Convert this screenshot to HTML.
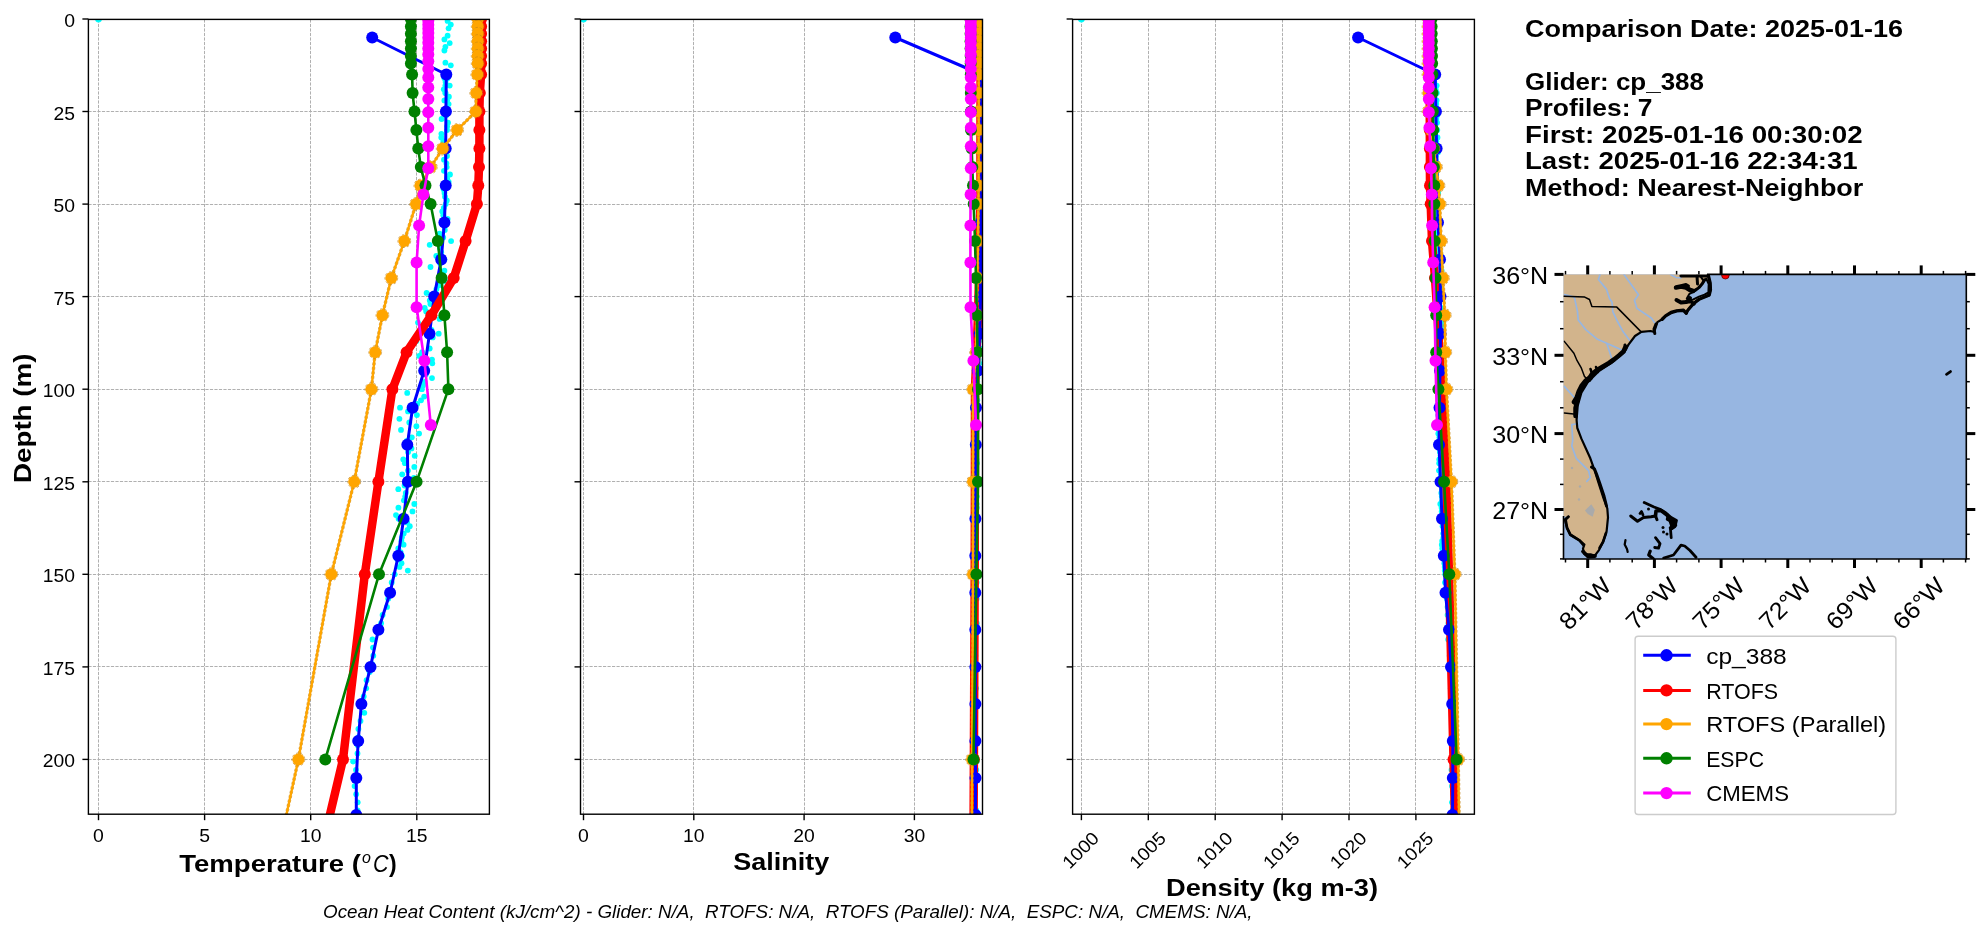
<!DOCTYPE html>
<html><head><meta charset="utf-8"><style>
html,body{margin:0;padding:0;background:#fff;width:1978px;height:934px;overflow:hidden;position:relative}
</style></head><body>
<svg width="1978" height="934" viewBox="0 0 1978 934" style="position:absolute;left:0;top:0;will-change:transform">
<defs>
<clipPath id="c1"><rect x="88.4" y="19.4" width="401.0" height="794.8"/></clipPath>
<clipPath id="c2"><rect x="580.5" y="19.4" width="402.0" height="794.8"/></clipPath>
<clipPath id="c3"><rect x="1072.6" y="19.4" width="401.8" height="794.8"/></clipPath>
<clipPath id="cm"><rect x="1563.5" y="274.4" width="402.8" height="284.6"/></clipPath>
</defs>
<rect width="1978" height="934" fill="#fff"/>
<g stroke="#b0b0b0" stroke-width="1" stroke-dasharray="3.2 1.3" fill="none">
<line x1="98.5" y1="19.4" x2="98.5" y2="814.2"/>
<line x1="204.5" y1="19.4" x2="204.5" y2="814.2"/>
<line x1="310.5" y1="19.4" x2="310.5" y2="814.2"/>
<line x1="416.5" y1="19.4" x2="416.5" y2="814.2"/>
<line x1="88.4" y1="111.5" x2="489.4" y2="111.5"/>
<line x1="88.4" y1="204.5" x2="489.4" y2="204.5"/>
<line x1="88.4" y1="296.5" x2="489.4" y2="296.5"/>
<line x1="88.4" y1="389.5" x2="489.4" y2="389.5"/>
<line x1="88.4" y1="481.5" x2="489.4" y2="481.5"/>
<line x1="88.4" y1="574.5" x2="489.4" y2="574.5"/>
<line x1="88.4" y1="666.5" x2="489.4" y2="666.5"/>
<line x1="88.4" y1="759.5" x2="489.4" y2="759.5"/>
</g>
<g stroke="#b0b0b0" stroke-width="1" stroke-dasharray="3.2 1.3" fill="none">
<line x1="583.5" y1="19.4" x2="583.5" y2="814.2"/>
<line x1="693.5" y1="19.4" x2="693.5" y2="814.2"/>
<line x1="804.5" y1="19.4" x2="804.5" y2="814.2"/>
<line x1="914.5" y1="19.4" x2="914.5" y2="814.2"/>
<line x1="580.5" y1="111.5" x2="982.5" y2="111.5"/>
<line x1="580.5" y1="204.5" x2="982.5" y2="204.5"/>
<line x1="580.5" y1="296.5" x2="982.5" y2="296.5"/>
<line x1="580.5" y1="389.5" x2="982.5" y2="389.5"/>
<line x1="580.5" y1="481.5" x2="982.5" y2="481.5"/>
<line x1="580.5" y1="574.5" x2="982.5" y2="574.5"/>
<line x1="580.5" y1="666.5" x2="982.5" y2="666.5"/>
<line x1="580.5" y1="759.5" x2="982.5" y2="759.5"/>
</g>
<g stroke="#b0b0b0" stroke-width="1" stroke-dasharray="3.2 1.3" fill="none">
<line x1="1081.5" y1="19.4" x2="1081.5" y2="814.2"/>
<line x1="1148.5" y1="19.4" x2="1148.5" y2="814.2"/>
<line x1="1215.5" y1="19.4" x2="1215.5" y2="814.2"/>
<line x1="1282.5" y1="19.4" x2="1282.5" y2="814.2"/>
<line x1="1349.5" y1="19.4" x2="1349.5" y2="814.2"/>
<line x1="1415.5" y1="19.4" x2="1415.5" y2="814.2"/>
<line x1="1072.6" y1="111.5" x2="1474.4" y2="111.5"/>
<line x1="1072.6" y1="204.5" x2="1474.4" y2="204.5"/>
<line x1="1072.6" y1="296.5" x2="1474.4" y2="296.5"/>
<line x1="1072.6" y1="389.5" x2="1474.4" y2="389.5"/>
<line x1="1072.6" y1="481.5" x2="1474.4" y2="481.5"/>
<line x1="1072.6" y1="574.5" x2="1474.4" y2="574.5"/>
<line x1="1072.6" y1="666.5" x2="1474.4" y2="666.5"/>
<line x1="1072.6" y1="759.5" x2="1474.4" y2="759.5"/>
</g>
<g clip-path="url(#c1)">
<circle cx="98.5" cy="19.0" r="3.4" fill="#00ffff"/>
<circle cx="447.6" cy="20.9" r="2.9" fill="#00ffff"/>
<circle cx="450.8" cy="24.6" r="2.9" fill="#00ffff"/>
<circle cx="448.6" cy="28.3" r="2.9" fill="#00ffff"/>
<circle cx="447.6" cy="35.7" r="2.9" fill="#00ffff"/>
<circle cx="444.4" cy="39.4" r="2.9" fill="#00ffff"/>
<circle cx="449.7" cy="43.1" r="2.9" fill="#00ffff"/>
<circle cx="445.4" cy="46.8" r="2.9" fill="#00ffff"/>
<circle cx="444.4" cy="50.5" r="2.9" fill="#00ffff"/>
<circle cx="445.4" cy="62.7" r="2.9" fill="#00ffff"/>
<circle cx="450.8" cy="65.3" r="2.9" fill="#00ffff"/>
<circle cx="444.4" cy="78.2" r="2.9" fill="#00ffff"/>
<circle cx="449.7" cy="85.6" r="2.9" fill="#00ffff"/>
<circle cx="445.4" cy="93.0" r="2.9" fill="#00ffff"/>
<circle cx="444.4" cy="100.4" r="2.9" fill="#00ffff"/>
<circle cx="445.6" cy="74.5" r="2.9" fill="#00ffff"/>
<circle cx="447.6" cy="78.2" r="2.9" fill="#00ffff"/>
<circle cx="445.6" cy="81.9" r="2.9" fill="#00ffff"/>
<circle cx="445.4" cy="85.6" r="2.9" fill="#00ffff"/>
<circle cx="443.8" cy="89.3" r="2.9" fill="#00ffff"/>
<circle cx="445.5" cy="93.0" r="2.9" fill="#00ffff"/>
<circle cx="448.9" cy="96.7" r="2.9" fill="#00ffff"/>
<circle cx="447.1" cy="100.4" r="2.9" fill="#00ffff"/>
<circle cx="448.6" cy="104.1" r="2.9" fill="#00ffff"/>
<circle cx="446.5" cy="107.8" r="2.9" fill="#00ffff"/>
<circle cx="446.9" cy="111.5" r="2.9" fill="#00ffff"/>
<circle cx="446.3" cy="115.3" r="2.9" fill="#00ffff"/>
<circle cx="441.6" cy="119.0" r="2.9" fill="#00ffff"/>
<circle cx="448.0" cy="122.7" r="2.9" fill="#00ffff"/>
<circle cx="447.1" cy="126.4" r="2.9" fill="#00ffff"/>
<circle cx="447.0" cy="130.1" r="2.9" fill="#00ffff"/>
<circle cx="441.4" cy="133.8" r="2.9" fill="#00ffff"/>
<circle cx="441.3" cy="137.5" r="2.9" fill="#00ffff"/>
<circle cx="443.4" cy="141.2" r="2.9" fill="#00ffff"/>
<circle cx="444.5" cy="144.9" r="2.9" fill="#00ffff"/>
<circle cx="446.4" cy="148.6" r="2.9" fill="#00ffff"/>
<circle cx="445.5" cy="152.3" r="2.9" fill="#00ffff"/>
<circle cx="447.0" cy="156.0" r="2.9" fill="#00ffff"/>
<circle cx="444.0" cy="159.7" r="2.9" fill="#00ffff"/>
<circle cx="446.4" cy="163.4" r="2.9" fill="#00ffff"/>
<circle cx="446.7" cy="167.1" r="2.9" fill="#00ffff"/>
<circle cx="444.0" cy="170.8" r="2.9" fill="#00ffff"/>
<circle cx="450.0" cy="174.5" r="2.9" fill="#00ffff"/>
<circle cx="447.1" cy="178.2" r="2.9" fill="#00ffff"/>
<circle cx="448.7" cy="181.9" r="2.9" fill="#00ffff"/>
<circle cx="444.1" cy="185.6" r="2.9" fill="#00ffff"/>
<circle cx="443.6" cy="189.3" r="2.9" fill="#00ffff"/>
<circle cx="444.5" cy="193.0" r="2.9" fill="#00ffff"/>
<circle cx="445.0" cy="196.7" r="2.9" fill="#00ffff"/>
<circle cx="446.8" cy="200.4" r="2.9" fill="#00ffff"/>
<circle cx="445.7" cy="204.1" r="2.9" fill="#00ffff"/>
<circle cx="443.8" cy="207.8" r="2.9" fill="#00ffff"/>
<circle cx="442.3" cy="211.5" r="2.9" fill="#00ffff"/>
<circle cx="443.3" cy="215.2" r="2.9" fill="#00ffff"/>
<circle cx="447.6" cy="218.9" r="2.9" fill="#00ffff"/>
<circle cx="442.3" cy="222.6" r="2.9" fill="#00ffff"/>
<circle cx="444.7" cy="226.3" r="2.9" fill="#00ffff"/>
<circle cx="444.8" cy="230.0" r="2.9" fill="#00ffff"/>
<circle cx="439.6" cy="233.7" r="2.9" fill="#00ffff"/>
<circle cx="443.2" cy="237.4" r="2.9" fill="#00ffff"/>
<circle cx="451.1" cy="241.1" r="2.9" fill="#00ffff"/>
<circle cx="429.7" cy="244.8" r="2.9" fill="#00ffff"/>
<circle cx="440.1" cy="248.5" r="2.9" fill="#00ffff"/>
<circle cx="441.2" cy="252.2" r="2.9" fill="#00ffff"/>
<circle cx="436.3" cy="255.9" r="2.9" fill="#00ffff"/>
<circle cx="444.4" cy="259.6" r="2.9" fill="#00ffff"/>
<circle cx="440.1" cy="263.3" r="2.9" fill="#00ffff"/>
<circle cx="430.5" cy="267.0" r="2.9" fill="#00ffff"/>
<circle cx="444.4" cy="270.7" r="2.9" fill="#00ffff"/>
<circle cx="442.7" cy="274.4" r="2.9" fill="#00ffff"/>
<circle cx="443.7" cy="278.1" r="2.9" fill="#00ffff"/>
<circle cx="446.2" cy="281.8" r="2.9" fill="#00ffff"/>
<circle cx="438.6" cy="285.5" r="2.9" fill="#00ffff"/>
<circle cx="436.4" cy="289.2" r="2.9" fill="#00ffff"/>
<circle cx="426.6" cy="292.9" r="2.9" fill="#00ffff"/>
<circle cx="438.1" cy="296.6" r="2.9" fill="#00ffff"/>
<circle cx="429.8" cy="300.4" r="2.9" fill="#00ffff"/>
<circle cx="430.4" cy="304.1" r="2.9" fill="#00ffff"/>
<circle cx="424.7" cy="307.8" r="2.9" fill="#00ffff"/>
<circle cx="426.2" cy="311.5" r="2.9" fill="#00ffff"/>
<circle cx="428.5" cy="315.2" r="2.9" fill="#00ffff"/>
<circle cx="439.6" cy="318.9" r="2.9" fill="#00ffff"/>
<circle cx="418.0" cy="322.6" r="2.9" fill="#00ffff"/>
<circle cx="421.2" cy="326.3" r="2.9" fill="#00ffff"/>
<circle cx="431.5" cy="330.0" r="2.9" fill="#00ffff"/>
<circle cx="438.7" cy="333.7" r="2.9" fill="#00ffff"/>
<circle cx="432.7" cy="337.4" r="2.9" fill="#00ffff"/>
<circle cx="416.4" cy="341.1" r="2.9" fill="#00ffff"/>
<circle cx="411.9" cy="344.8" r="2.9" fill="#00ffff"/>
<circle cx="429.7" cy="348.5" r="2.9" fill="#00ffff"/>
<circle cx="422.2" cy="352.2" r="2.9" fill="#00ffff"/>
<circle cx="419.2" cy="355.9" r="2.9" fill="#00ffff"/>
<circle cx="432.0" cy="359.6" r="2.9" fill="#00ffff"/>
<circle cx="432.3" cy="363.3" r="2.9" fill="#00ffff"/>
<circle cx="425.8" cy="367.0" r="2.9" fill="#00ffff"/>
<circle cx="425.8" cy="370.7" r="2.9" fill="#00ffff"/>
<circle cx="425.8" cy="374.4" r="2.9" fill="#00ffff"/>
<circle cx="432.0" cy="378.1" r="2.9" fill="#00ffff"/>
<circle cx="424.7" cy="381.8" r="2.9" fill="#00ffff"/>
<circle cx="422.9" cy="385.5" r="2.9" fill="#00ffff"/>
<circle cx="421.9" cy="389.2" r="2.9" fill="#00ffff"/>
<circle cx="407.2" cy="392.9" r="2.9" fill="#00ffff"/>
<circle cx="424.2" cy="396.6" r="2.9" fill="#00ffff"/>
<circle cx="421.0" cy="400.3" r="2.9" fill="#00ffff"/>
<circle cx="417.1" cy="404.0" r="2.9" fill="#00ffff"/>
<circle cx="400.0" cy="407.7" r="2.9" fill="#00ffff"/>
<circle cx="408.0" cy="411.4" r="2.9" fill="#00ffff"/>
<circle cx="416.9" cy="415.1" r="2.9" fill="#00ffff"/>
<circle cx="399.4" cy="418.8" r="2.9" fill="#00ffff"/>
<circle cx="409.3" cy="422.5" r="2.9" fill="#00ffff"/>
<circle cx="416.4" cy="426.2" r="2.9" fill="#00ffff"/>
<circle cx="401.0" cy="429.9" r="2.9" fill="#00ffff"/>
<circle cx="419.1" cy="433.6" r="2.9" fill="#00ffff"/>
<circle cx="411.8" cy="437.3" r="2.9" fill="#00ffff"/>
<circle cx="406.8" cy="441.0" r="2.9" fill="#00ffff"/>
<circle cx="409.3" cy="444.7" r="2.9" fill="#00ffff"/>
<circle cx="411.5" cy="448.4" r="2.9" fill="#00ffff"/>
<circle cx="408.1" cy="452.1" r="2.9" fill="#00ffff"/>
<circle cx="414.7" cy="455.8" r="2.9" fill="#00ffff"/>
<circle cx="403.3" cy="459.5" r="2.9" fill="#00ffff"/>
<circle cx="404.9" cy="463.2" r="2.9" fill="#00ffff"/>
<circle cx="414.3" cy="466.9" r="2.9" fill="#00ffff"/>
<circle cx="407.9" cy="470.6" r="2.9" fill="#00ffff"/>
<circle cx="402.2" cy="474.3" r="2.9" fill="#00ffff"/>
<circle cx="413.8" cy="478.0" r="2.9" fill="#00ffff"/>
<circle cx="417.2" cy="481.8" r="2.9" fill="#00ffff"/>
<circle cx="404.6" cy="485.5" r="2.9" fill="#00ffff"/>
<circle cx="398.3" cy="489.2" r="2.9" fill="#00ffff"/>
<circle cx="405.8" cy="492.9" r="2.9" fill="#00ffff"/>
<circle cx="405.2" cy="496.6" r="2.9" fill="#00ffff"/>
<circle cx="403.9" cy="500.3" r="2.9" fill="#00ffff"/>
<circle cx="414.3" cy="504.0" r="2.9" fill="#00ffff"/>
<circle cx="398.4" cy="507.7" r="2.9" fill="#00ffff"/>
<circle cx="412.5" cy="511.4" r="2.9" fill="#00ffff"/>
<circle cx="396.0" cy="515.1" r="2.9" fill="#00ffff"/>
<circle cx="398.6" cy="518.8" r="2.9" fill="#00ffff"/>
<circle cx="407.1" cy="522.5" r="2.9" fill="#00ffff"/>
<circle cx="409.8" cy="526.2" r="2.9" fill="#00ffff"/>
<circle cx="407.5" cy="529.9" r="2.9" fill="#00ffff"/>
<circle cx="403.7" cy="533.6" r="2.9" fill="#00ffff"/>
<circle cx="401.9" cy="537.3" r="2.9" fill="#00ffff"/>
<circle cx="401.4" cy="541.0" r="2.9" fill="#00ffff"/>
<circle cx="403.6" cy="544.7" r="2.9" fill="#00ffff"/>
<circle cx="398.3" cy="548.4" r="2.9" fill="#00ffff"/>
<circle cx="400.6" cy="552.1" r="2.9" fill="#00ffff"/>
<circle cx="402.0" cy="555.8" r="2.9" fill="#00ffff"/>
<circle cx="397.5" cy="559.5" r="2.9" fill="#00ffff"/>
<circle cx="401.5" cy="563.2" r="2.9" fill="#00ffff"/>
<circle cx="399.5" cy="566.9" r="2.9" fill="#00ffff"/>
<circle cx="407.8" cy="570.6" r="2.9" fill="#00ffff"/>
<circle cx="394.7" cy="574.3" r="2.9" fill="#00ffff"/>
<circle cx="391.7" cy="582.4" r="2.9" fill="#00ffff"/>
<circle cx="390.0" cy="590.6" r="2.9" fill="#00ffff"/>
<circle cx="388.2" cy="598.7" r="2.9" fill="#00ffff"/>
<circle cx="387.0" cy="606.9" r="2.9" fill="#00ffff"/>
<circle cx="382.6" cy="615.0" r="2.9" fill="#00ffff"/>
<circle cx="381.1" cy="623.2" r="2.9" fill="#00ffff"/>
<circle cx="380.8" cy="631.3" r="2.9" fill="#00ffff"/>
<circle cx="372.5" cy="639.5" r="2.9" fill="#00ffff"/>
<circle cx="373.0" cy="647.6" r="2.9" fill="#00ffff"/>
<circle cx="373.3" cy="655.7" r="2.9" fill="#00ffff"/>
<circle cx="371.8" cy="663.9" r="2.9" fill="#00ffff"/>
<circle cx="369.6" cy="672.0" r="2.9" fill="#00ffff"/>
<circle cx="366.6" cy="680.2" r="2.9" fill="#00ffff"/>
<circle cx="366.2" cy="688.3" r="2.9" fill="#00ffff"/>
<circle cx="363.7" cy="696.5" r="2.9" fill="#00ffff"/>
<circle cx="360.6" cy="704.6" r="2.9" fill="#00ffff"/>
<circle cx="364.3" cy="712.8" r="2.9" fill="#00ffff"/>
<circle cx="360.5" cy="720.9" r="2.9" fill="#00ffff"/>
<circle cx="358.4" cy="729.0" r="2.9" fill="#00ffff"/>
<circle cx="358.4" cy="737.2" r="2.9" fill="#00ffff"/>
<circle cx="357.7" cy="745.3" r="2.9" fill="#00ffff"/>
<circle cx="357.5" cy="753.5" r="2.9" fill="#00ffff"/>
<circle cx="353.1" cy="761.6" r="2.9" fill="#00ffff"/>
<circle cx="356.0" cy="769.8" r="2.9" fill="#00ffff"/>
<circle cx="357.8" cy="777.9" r="2.9" fill="#00ffff"/>
<circle cx="354.6" cy="786.1" r="2.9" fill="#00ffff"/>
<circle cx="356.2" cy="794.2" r="2.9" fill="#00ffff"/>
<circle cx="357.7" cy="802.3" r="2.9" fill="#00ffff"/>
<circle cx="357.6" cy="810.5" r="2.9" fill="#00ffff"/>
<circle cx="358.5" cy="818.6" r="2.9" fill="#00ffff"/>
<path d="M372.2 37.5 L446.3 74.5 L445.9 111.5 L445.7 148.6 L445.7 185.6 L444.4 222.6 L441.2 259.6 L434.2 296.6 L429.5 333.7 L424.2 370.7 L412.6 407.7 L407.3 444.7 L407.9 481.8 L403.6 518.8 L398.3 555.8 L390.1 592.8 L378.4 629.8 L370.5 666.9 L361.4 703.9 L358.2 740.9 L356.3 777.9 L356.3 814.9" fill="none" stroke="#0000ff" stroke-width="3" stroke-linejoin="round"/>
<circle cx="372.2" cy="37.5" r="6.0" fill="#0000ff"/>
<circle cx="446.3" cy="74.5" r="6.0" fill="#0000ff"/>
<circle cx="445.9" cy="111.5" r="6.0" fill="#0000ff"/>
<circle cx="445.7" cy="148.6" r="6.0" fill="#0000ff"/>
<circle cx="445.7" cy="185.6" r="6.0" fill="#0000ff"/>
<circle cx="444.4" cy="222.6" r="6.0" fill="#0000ff"/>
<circle cx="441.2" cy="259.6" r="6.0" fill="#0000ff"/>
<circle cx="434.2" cy="296.6" r="6.0" fill="#0000ff"/>
<circle cx="429.5" cy="333.7" r="6.0" fill="#0000ff"/>
<circle cx="424.2" cy="370.7" r="6.0" fill="#0000ff"/>
<circle cx="412.6" cy="407.7" r="6.0" fill="#0000ff"/>
<circle cx="407.3" cy="444.7" r="6.0" fill="#0000ff"/>
<circle cx="407.9" cy="481.8" r="6.0" fill="#0000ff"/>
<circle cx="403.6" cy="518.8" r="6.0" fill="#0000ff"/>
<circle cx="398.3" cy="555.8" r="6.0" fill="#0000ff"/>
<circle cx="390.1" cy="592.8" r="6.0" fill="#0000ff"/>
<circle cx="378.4" cy="629.8" r="6.0" fill="#0000ff"/>
<circle cx="370.5" cy="666.9" r="6.0" fill="#0000ff"/>
<circle cx="361.4" cy="703.9" r="6.0" fill="#0000ff"/>
<circle cx="358.2" cy="740.9" r="6.0" fill="#0000ff"/>
<circle cx="356.3" cy="777.9" r="6.0" fill="#0000ff"/>
<circle cx="356.3" cy="814.9" r="6.0" fill="#0000ff"/>
<path d="M481.1 19.0 L481.1 26.4 L481.1 33.8 L481.1 41.2 L481.1 48.6 L481.1 56.0 L481.1 63.4 L481.1 74.5 L479.8 93.0 L479.4 111.5 L479.4 130.1 L479.4 148.6 L479.0 167.1 L478.3 185.6 L476.9 204.1 L465.6 241.1 L453.7 278.1 L431.4 315.2 L406.6 352.2 L392.4 389.2 L378.4 481.8 L364.8 574.3 L343.0 759.4 L299.2 944.5" fill="none" stroke="#ff0000" stroke-width="8.5" stroke-linejoin="round"/>
<circle cx="481.1" cy="19.0" r="6.0" fill="#ff0000"/>
<circle cx="481.1" cy="26.4" r="6.0" fill="#ff0000"/>
<circle cx="481.1" cy="33.8" r="6.0" fill="#ff0000"/>
<circle cx="481.1" cy="41.2" r="6.0" fill="#ff0000"/>
<circle cx="481.1" cy="48.6" r="6.0" fill="#ff0000"/>
<circle cx="481.1" cy="56.0" r="6.0" fill="#ff0000"/>
<circle cx="481.1" cy="63.4" r="6.0" fill="#ff0000"/>
<circle cx="481.1" cy="74.5" r="6.0" fill="#ff0000"/>
<circle cx="479.8" cy="93.0" r="6.0" fill="#ff0000"/>
<circle cx="479.4" cy="111.5" r="6.0" fill="#ff0000"/>
<circle cx="479.4" cy="130.1" r="6.0" fill="#ff0000"/>
<circle cx="479.4" cy="148.6" r="6.0" fill="#ff0000"/>
<circle cx="479.0" cy="167.1" r="6.0" fill="#ff0000"/>
<circle cx="478.3" cy="185.6" r="6.0" fill="#ff0000"/>
<circle cx="476.9" cy="204.1" r="6.0" fill="#ff0000"/>
<circle cx="465.6" cy="241.1" r="6.0" fill="#ff0000"/>
<circle cx="453.7" cy="278.1" r="6.0" fill="#ff0000"/>
<circle cx="431.4" cy="315.2" r="6.0" fill="#ff0000"/>
<circle cx="406.6" cy="352.2" r="6.0" fill="#ff0000"/>
<circle cx="392.4" cy="389.2" r="6.0" fill="#ff0000"/>
<circle cx="378.4" cy="481.8" r="6.0" fill="#ff0000"/>
<circle cx="364.8" cy="574.3" r="6.0" fill="#ff0000"/>
<circle cx="343.0" cy="759.4" r="6.0" fill="#ff0000"/>
<circle cx="299.2" cy="944.5" r="6.0" fill="#ff0000"/>
<path d="M477.7 19.0 L477.7 26.4 L477.7 33.8 L477.7 41.2 L477.7 48.6 L477.7 56.0 L477.7 63.4 L477.3 74.5 L476.2 93.0 L475.8 111.5 L457.1 130.1 L442.7 148.6 L430.8 167.1 L420.4 185.6 L416.0 204.1 L404.3 241.1 L391.3 278.1 L382.4 315.2 L375.2 352.2 L371.4 389.2 L354.2 481.8 L331.3 574.3 L298.4 759.4 L258.3 944.5" fill="none" stroke="#c0841a" stroke-opacity="0.7" stroke-width="3.4" stroke-linejoin="round" stroke-dasharray="2.5 2"/>
<path d="M477.7 19.0 L477.7 26.4 L477.7 33.8 L477.7 41.2 L477.7 48.6 L477.7 56.0 L477.7 63.4 L477.3 74.5 L476.2 93.0 L475.8 111.5 L457.1 130.1 L442.7 148.6 L430.8 167.1 L420.4 185.6 L416.0 204.1 L404.3 241.1 L391.3 278.1 L382.4 315.2 L375.2 352.2 L371.4 389.2 L354.2 481.8 L331.3 574.3 L298.4 759.4 L258.3 944.5" fill="none" stroke="#ffa500" stroke-width="2.4" stroke-linejoin="round"/>
<circle cx="477.7" cy="19.0" r="6.4" fill="none" stroke="#c0841a" stroke-opacity="0.7" stroke-width="1.0" stroke-dasharray="2.5 2"/>
<circle cx="477.7" cy="19.0" r="6.0" fill="#ffa500"/>
<circle cx="477.7" cy="26.4" r="6.4" fill="none" stroke="#c0841a" stroke-opacity="0.7" stroke-width="1.0" stroke-dasharray="2.5 2"/>
<circle cx="477.7" cy="26.4" r="6.0" fill="#ffa500"/>
<circle cx="477.7" cy="33.8" r="6.4" fill="none" stroke="#c0841a" stroke-opacity="0.7" stroke-width="1.0" stroke-dasharray="2.5 2"/>
<circle cx="477.7" cy="33.8" r="6.0" fill="#ffa500"/>
<circle cx="477.7" cy="41.2" r="6.4" fill="none" stroke="#c0841a" stroke-opacity="0.7" stroke-width="1.0" stroke-dasharray="2.5 2"/>
<circle cx="477.7" cy="41.2" r="6.0" fill="#ffa500"/>
<circle cx="477.7" cy="48.6" r="6.4" fill="none" stroke="#c0841a" stroke-opacity="0.7" stroke-width="1.0" stroke-dasharray="2.5 2"/>
<circle cx="477.7" cy="48.6" r="6.0" fill="#ffa500"/>
<circle cx="477.7" cy="56.0" r="6.4" fill="none" stroke="#c0841a" stroke-opacity="0.7" stroke-width="1.0" stroke-dasharray="2.5 2"/>
<circle cx="477.7" cy="56.0" r="6.0" fill="#ffa500"/>
<circle cx="477.7" cy="63.4" r="6.4" fill="none" stroke="#c0841a" stroke-opacity="0.7" stroke-width="1.0" stroke-dasharray="2.5 2"/>
<circle cx="477.7" cy="63.4" r="6.0" fill="#ffa500"/>
<circle cx="477.3" cy="74.5" r="6.4" fill="none" stroke="#c0841a" stroke-opacity="0.7" stroke-width="1.0" stroke-dasharray="2.5 2"/>
<circle cx="477.3" cy="74.5" r="6.0" fill="#ffa500"/>
<circle cx="476.2" cy="93.0" r="6.4" fill="none" stroke="#c0841a" stroke-opacity="0.7" stroke-width="1.0" stroke-dasharray="2.5 2"/>
<circle cx="476.2" cy="93.0" r="6.0" fill="#ffa500"/>
<circle cx="475.8" cy="111.5" r="6.4" fill="none" stroke="#c0841a" stroke-opacity="0.7" stroke-width="1.0" stroke-dasharray="2.5 2"/>
<circle cx="475.8" cy="111.5" r="6.0" fill="#ffa500"/>
<circle cx="457.1" cy="130.1" r="6.4" fill="none" stroke="#c0841a" stroke-opacity="0.7" stroke-width="1.0" stroke-dasharray="2.5 2"/>
<circle cx="457.1" cy="130.1" r="6.0" fill="#ffa500"/>
<circle cx="442.7" cy="148.6" r="6.4" fill="none" stroke="#c0841a" stroke-opacity="0.7" stroke-width="1.0" stroke-dasharray="2.5 2"/>
<circle cx="442.7" cy="148.6" r="6.0" fill="#ffa500"/>
<circle cx="430.8" cy="167.1" r="6.4" fill="none" stroke="#c0841a" stroke-opacity="0.7" stroke-width="1.0" stroke-dasharray="2.5 2"/>
<circle cx="430.8" cy="167.1" r="6.0" fill="#ffa500"/>
<circle cx="420.4" cy="185.6" r="6.4" fill="none" stroke="#c0841a" stroke-opacity="0.7" stroke-width="1.0" stroke-dasharray="2.5 2"/>
<circle cx="420.4" cy="185.6" r="6.0" fill="#ffa500"/>
<circle cx="416.0" cy="204.1" r="6.4" fill="none" stroke="#c0841a" stroke-opacity="0.7" stroke-width="1.0" stroke-dasharray="2.5 2"/>
<circle cx="416.0" cy="204.1" r="6.0" fill="#ffa500"/>
<circle cx="404.3" cy="241.1" r="6.4" fill="none" stroke="#c0841a" stroke-opacity="0.7" stroke-width="1.0" stroke-dasharray="2.5 2"/>
<circle cx="404.3" cy="241.1" r="6.0" fill="#ffa500"/>
<circle cx="391.3" cy="278.1" r="6.4" fill="none" stroke="#c0841a" stroke-opacity="0.7" stroke-width="1.0" stroke-dasharray="2.5 2"/>
<circle cx="391.3" cy="278.1" r="6.0" fill="#ffa500"/>
<circle cx="382.4" cy="315.2" r="6.4" fill="none" stroke="#c0841a" stroke-opacity="0.7" stroke-width="1.0" stroke-dasharray="2.5 2"/>
<circle cx="382.4" cy="315.2" r="6.0" fill="#ffa500"/>
<circle cx="375.2" cy="352.2" r="6.4" fill="none" stroke="#c0841a" stroke-opacity="0.7" stroke-width="1.0" stroke-dasharray="2.5 2"/>
<circle cx="375.2" cy="352.2" r="6.0" fill="#ffa500"/>
<circle cx="371.4" cy="389.2" r="6.4" fill="none" stroke="#c0841a" stroke-opacity="0.7" stroke-width="1.0" stroke-dasharray="2.5 2"/>
<circle cx="371.4" cy="389.2" r="6.0" fill="#ffa500"/>
<circle cx="354.2" cy="481.8" r="6.4" fill="none" stroke="#c0841a" stroke-opacity="0.7" stroke-width="1.0" stroke-dasharray="2.5 2"/>
<circle cx="354.2" cy="481.8" r="6.0" fill="#ffa500"/>
<circle cx="331.3" cy="574.3" r="6.4" fill="none" stroke="#c0841a" stroke-opacity="0.7" stroke-width="1.0" stroke-dasharray="2.5 2"/>
<circle cx="331.3" cy="574.3" r="6.0" fill="#ffa500"/>
<circle cx="298.4" cy="759.4" r="6.4" fill="none" stroke="#c0841a" stroke-opacity="0.7" stroke-width="1.0" stroke-dasharray="2.5 2"/>
<circle cx="298.4" cy="759.4" r="6.0" fill="#ffa500"/>
<circle cx="258.3" cy="944.5" r="6.4" fill="none" stroke="#c0841a" stroke-opacity="0.7" stroke-width="1.0" stroke-dasharray="2.5 2"/>
<circle cx="258.3" cy="944.5" r="6.0" fill="#ffa500"/>
<path d="M410.9 19.0 L410.9 26.4 L410.9 33.8 L410.9 41.2 L410.9 48.6 L410.9 56.0 L410.9 63.4 L412.1 74.5 L412.6 93.0 L414.5 111.5 L416.4 130.1 L418.3 148.6 L420.8 167.1 L425.5 185.6 L430.6 204.1 L437.8 241.1 L441.6 278.1 L444.4 315.2 L447.1 352.2 L448.4 389.2 L416.6 481.8 L379.0 574.3 L325.3 759.4" fill="none" stroke="#008000" stroke-width="2.6" stroke-linejoin="round"/>
<circle cx="410.9" cy="19.0" r="6.0" fill="#008000"/>
<circle cx="410.9" cy="26.4" r="6.0" fill="#008000"/>
<circle cx="410.9" cy="33.8" r="6.0" fill="#008000"/>
<circle cx="410.9" cy="41.2" r="6.0" fill="#008000"/>
<circle cx="410.9" cy="48.6" r="6.0" fill="#008000"/>
<circle cx="410.9" cy="56.0" r="6.0" fill="#008000"/>
<circle cx="410.9" cy="63.4" r="6.0" fill="#008000"/>
<circle cx="412.1" cy="74.5" r="6.0" fill="#008000"/>
<circle cx="412.6" cy="93.0" r="6.0" fill="#008000"/>
<circle cx="414.5" cy="111.5" r="6.0" fill="#008000"/>
<circle cx="416.4" cy="130.1" r="6.0" fill="#008000"/>
<circle cx="418.3" cy="148.6" r="6.0" fill="#008000"/>
<circle cx="420.8" cy="167.1" r="6.0" fill="#008000"/>
<circle cx="425.5" cy="185.6" r="6.0" fill="#008000"/>
<circle cx="430.6" cy="204.1" r="6.0" fill="#008000"/>
<circle cx="437.8" cy="241.1" r="6.0" fill="#008000"/>
<circle cx="441.6" cy="278.1" r="6.0" fill="#008000"/>
<circle cx="444.4" cy="315.2" r="6.0" fill="#008000"/>
<circle cx="447.1" cy="352.2" r="6.0" fill="#008000"/>
<circle cx="448.4" cy="389.2" r="6.0" fill="#008000"/>
<circle cx="416.6" cy="481.8" r="6.0" fill="#008000"/>
<circle cx="379.0" cy="574.3" r="6.0" fill="#008000"/>
<circle cx="325.3" cy="759.4" r="6.0" fill="#008000"/>
<path d="M428.3 20.8 L428.3 24.7 L428.3 28.8 L428.3 33.1 L428.3 37.8 L428.3 42.8 L428.3 48.4 L428.3 54.4 L428.3 61.2 L428.3 68.9 L428.3 77.5 L428.3 87.5 L428.3 99.0 L428.3 112.3 L428.3 127.8 L428.3 146.3 L428.3 168.2 L423.4 194.5 L419.1 225.6 L416.6 262.6 L416.6 307.2 L424.4 360.7 L430.8 425.1" fill="none" stroke="#ff00ff" stroke-width="2.6" stroke-linejoin="round"/>
<circle cx="428.3" cy="20.8" r="6.0" fill="#ff00ff"/>
<circle cx="428.3" cy="24.7" r="6.0" fill="#ff00ff"/>
<circle cx="428.3" cy="28.8" r="6.0" fill="#ff00ff"/>
<circle cx="428.3" cy="33.1" r="6.0" fill="#ff00ff"/>
<circle cx="428.3" cy="37.8" r="6.0" fill="#ff00ff"/>
<circle cx="428.3" cy="42.8" r="6.0" fill="#ff00ff"/>
<circle cx="428.3" cy="48.4" r="6.0" fill="#ff00ff"/>
<circle cx="428.3" cy="54.4" r="6.0" fill="#ff00ff"/>
<circle cx="428.3" cy="61.2" r="6.0" fill="#ff00ff"/>
<circle cx="428.3" cy="68.9" r="6.0" fill="#ff00ff"/>
<circle cx="428.3" cy="77.5" r="6.0" fill="#ff00ff"/>
<circle cx="428.3" cy="87.5" r="6.0" fill="#ff00ff"/>
<circle cx="428.3" cy="99.0" r="6.0" fill="#ff00ff"/>
<circle cx="428.3" cy="112.3" r="6.0" fill="#ff00ff"/>
<circle cx="428.3" cy="127.8" r="6.0" fill="#ff00ff"/>
<circle cx="428.3" cy="146.3" r="6.0" fill="#ff00ff"/>
<circle cx="428.3" cy="168.2" r="6.0" fill="#ff00ff"/>
<circle cx="423.4" cy="194.5" r="6.0" fill="#ff00ff"/>
<circle cx="419.1" cy="225.6" r="6.0" fill="#ff00ff"/>
<circle cx="416.6" cy="262.6" r="6.0" fill="#ff00ff"/>
<circle cx="416.6" cy="307.2" r="6.0" fill="#ff00ff"/>
<circle cx="424.4" cy="360.7" r="6.0" fill="#ff00ff"/>
<circle cx="430.8" cy="425.1" r="6.0" fill="#ff00ff"/>
</g>
<g clip-path="url(#c2)">
<circle cx="583.5" cy="19.0" r="3.4" fill="#00ffff"/>
<circle cx="981.0" cy="20.9" r="2.9" fill="#00ffff"/>
<circle cx="981.0" cy="24.6" r="2.9" fill="#00ffff"/>
<circle cx="981.0" cy="28.3" r="2.9" fill="#00ffff"/>
<circle cx="981.0" cy="35.7" r="2.9" fill="#00ffff"/>
<circle cx="981.0" cy="39.4" r="2.9" fill="#00ffff"/>
<circle cx="981.0" cy="43.1" r="2.9" fill="#00ffff"/>
<circle cx="981.0" cy="46.8" r="2.9" fill="#00ffff"/>
<circle cx="981.0" cy="50.5" r="2.9" fill="#00ffff"/>
<circle cx="981.0" cy="62.7" r="2.9" fill="#00ffff"/>
<circle cx="981.0" cy="65.3" r="2.9" fill="#00ffff"/>
<circle cx="981.6" cy="78.2" r="2.9" fill="#00ffff"/>
<circle cx="982.3" cy="85.6" r="2.9" fill="#00ffff"/>
<circle cx="980.9" cy="93.0" r="2.9" fill="#00ffff"/>
<circle cx="980.6" cy="100.4" r="2.9" fill="#00ffff"/>
<circle cx="981.0" cy="74.5" r="2.9" fill="#00ffff"/>
<circle cx="982.4" cy="78.2" r="2.9" fill="#00ffff"/>
<circle cx="982.9" cy="81.9" r="2.9" fill="#00ffff"/>
<circle cx="982.5" cy="85.6" r="2.9" fill="#00ffff"/>
<circle cx="982.4" cy="89.3" r="2.9" fill="#00ffff"/>
<circle cx="982.4" cy="93.0" r="2.9" fill="#00ffff"/>
<circle cx="982.1" cy="96.7" r="2.9" fill="#00ffff"/>
<circle cx="980.6" cy="100.4" r="2.9" fill="#00ffff"/>
<circle cx="981.4" cy="104.1" r="2.9" fill="#00ffff"/>
<circle cx="980.9" cy="107.8" r="2.9" fill="#00ffff"/>
<circle cx="979.9" cy="111.5" r="2.9" fill="#00ffff"/>
<circle cx="979.9" cy="115.3" r="2.9" fill="#00ffff"/>
<circle cx="980.7" cy="119.0" r="2.9" fill="#00ffff"/>
<circle cx="980.6" cy="122.7" r="2.9" fill="#00ffff"/>
<circle cx="981.9" cy="126.4" r="2.9" fill="#00ffff"/>
<circle cx="982.6" cy="130.1" r="2.9" fill="#00ffff"/>
<circle cx="981.1" cy="133.8" r="2.9" fill="#00ffff"/>
<circle cx="982.5" cy="137.5" r="2.9" fill="#00ffff"/>
<circle cx="982.7" cy="141.2" r="2.9" fill="#00ffff"/>
<circle cx="982.6" cy="144.9" r="2.9" fill="#00ffff"/>
<circle cx="980.8" cy="148.6" r="2.9" fill="#00ffff"/>
<circle cx="980.3" cy="152.3" r="2.9" fill="#00ffff"/>
<circle cx="980.3" cy="156.0" r="2.9" fill="#00ffff"/>
<circle cx="980.2" cy="159.7" r="2.9" fill="#00ffff"/>
<circle cx="980.2" cy="163.4" r="2.9" fill="#00ffff"/>
<circle cx="981.5" cy="167.1" r="2.9" fill="#00ffff"/>
<circle cx="982.3" cy="170.8" r="2.9" fill="#00ffff"/>
<circle cx="982.1" cy="174.5" r="2.9" fill="#00ffff"/>
<circle cx="981.0" cy="178.2" r="2.9" fill="#00ffff"/>
<circle cx="981.5" cy="181.9" r="2.9" fill="#00ffff"/>
<circle cx="981.9" cy="185.6" r="2.9" fill="#00ffff"/>
<circle cx="979.8" cy="189.3" r="2.9" fill="#00ffff"/>
<circle cx="981.5" cy="193.0" r="2.9" fill="#00ffff"/>
<circle cx="982.2" cy="196.7" r="2.9" fill="#00ffff"/>
<circle cx="981.8" cy="200.4" r="2.9" fill="#00ffff"/>
<circle cx="981.7" cy="204.1" r="2.9" fill="#00ffff"/>
<circle cx="980.9" cy="207.8" r="2.9" fill="#00ffff"/>
<circle cx="980.0" cy="211.5" r="2.9" fill="#00ffff"/>
<circle cx="981.8" cy="215.2" r="2.9" fill="#00ffff"/>
<circle cx="980.4" cy="218.9" r="2.9" fill="#00ffff"/>
<circle cx="981.8" cy="222.6" r="2.9" fill="#00ffff"/>
<circle cx="982.3" cy="226.3" r="2.9" fill="#00ffff"/>
<circle cx="980.5" cy="230.0" r="2.9" fill="#00ffff"/>
<circle cx="980.5" cy="233.7" r="2.9" fill="#00ffff"/>
<circle cx="982.2" cy="237.4" r="2.9" fill="#00ffff"/>
<circle cx="981.5" cy="241.1" r="2.9" fill="#00ffff"/>
<circle cx="979.8" cy="244.8" r="2.9" fill="#00ffff"/>
<circle cx="979.7" cy="248.5" r="2.9" fill="#00ffff"/>
<circle cx="979.7" cy="252.2" r="2.9" fill="#00ffff"/>
<circle cx="982.0" cy="255.9" r="2.9" fill="#00ffff"/>
<circle cx="981.7" cy="259.6" r="2.9" fill="#00ffff"/>
<circle cx="979.7" cy="263.3" r="2.9" fill="#00ffff"/>
<circle cx="981.7" cy="267.0" r="2.9" fill="#00ffff"/>
<circle cx="982.1" cy="270.7" r="2.9" fill="#00ffff"/>
<circle cx="981.1" cy="274.4" r="2.9" fill="#00ffff"/>
<circle cx="980.2" cy="278.1" r="2.9" fill="#00ffff"/>
<circle cx="980.8" cy="281.8" r="2.9" fill="#00ffff"/>
<circle cx="979.5" cy="285.5" r="2.9" fill="#00ffff"/>
<circle cx="979.2" cy="289.2" r="2.9" fill="#00ffff"/>
<circle cx="982.0" cy="292.9" r="2.9" fill="#00ffff"/>
<circle cx="981.0" cy="296.6" r="2.9" fill="#00ffff"/>
<circle cx="980.6" cy="300.4" r="2.9" fill="#00ffff"/>
<circle cx="981.8" cy="304.1" r="2.9" fill="#00ffff"/>
<circle cx="980.3" cy="307.8" r="2.9" fill="#00ffff"/>
<circle cx="981.6" cy="311.5" r="2.9" fill="#00ffff"/>
<circle cx="981.5" cy="315.2" r="2.9" fill="#00ffff"/>
<circle cx="979.5" cy="318.9" r="2.9" fill="#00ffff"/>
<circle cx="979.4" cy="322.6" r="2.9" fill="#00ffff"/>
<circle cx="979.3" cy="326.3" r="2.9" fill="#00ffff"/>
<circle cx="979.0" cy="330.0" r="2.9" fill="#00ffff"/>
<circle cx="979.9" cy="333.7" r="2.9" fill="#00ffff"/>
<circle cx="978.7" cy="337.4" r="2.9" fill="#00ffff"/>
<circle cx="979.0" cy="341.1" r="2.9" fill="#00ffff"/>
<circle cx="978.0" cy="344.8" r="2.9" fill="#00ffff"/>
<circle cx="980.1" cy="348.5" r="2.9" fill="#00ffff"/>
<circle cx="978.3" cy="352.2" r="2.9" fill="#00ffff"/>
<circle cx="978.4" cy="355.9" r="2.9" fill="#00ffff"/>
<circle cx="978.6" cy="359.6" r="2.9" fill="#00ffff"/>
<circle cx="979.4" cy="363.3" r="2.9" fill="#00ffff"/>
<circle cx="977.7" cy="367.0" r="2.9" fill="#00ffff"/>
<circle cx="979.1" cy="370.7" r="2.9" fill="#00ffff"/>
<circle cx="977.6" cy="374.4" r="2.9" fill="#00ffff"/>
<circle cx="977.5" cy="378.1" r="2.9" fill="#00ffff"/>
<circle cx="977.3" cy="381.8" r="2.9" fill="#00ffff"/>
<circle cx="975.6" cy="385.5" r="2.9" fill="#00ffff"/>
<circle cx="976.7" cy="389.2" r="2.9" fill="#00ffff"/>
<circle cx="975.8" cy="392.9" r="2.9" fill="#00ffff"/>
<circle cx="975.1" cy="396.6" r="2.9" fill="#00ffff"/>
<circle cx="977.3" cy="400.3" r="2.9" fill="#00ffff"/>
<circle cx="975.2" cy="404.0" r="2.9" fill="#00ffff"/>
<circle cx="975.9" cy="407.7" r="2.9" fill="#00ffff"/>
<circle cx="976.7" cy="411.4" r="2.9" fill="#00ffff"/>
<circle cx="976.1" cy="415.1" r="2.9" fill="#00ffff"/>
<circle cx="975.4" cy="418.8" r="2.9" fill="#00ffff"/>
<circle cx="976.0" cy="422.5" r="2.9" fill="#00ffff"/>
<circle cx="976.0" cy="426.2" r="2.9" fill="#00ffff"/>
<circle cx="976.7" cy="429.9" r="2.9" fill="#00ffff"/>
<circle cx="974.6" cy="433.6" r="2.9" fill="#00ffff"/>
<circle cx="976.0" cy="437.3" r="2.9" fill="#00ffff"/>
<circle cx="975.0" cy="441.0" r="2.9" fill="#00ffff"/>
<circle cx="975.1" cy="444.7" r="2.9" fill="#00ffff"/>
<circle cx="976.5" cy="448.4" r="2.9" fill="#00ffff"/>
<circle cx="975.7" cy="452.1" r="2.9" fill="#00ffff"/>
<circle cx="975.9" cy="455.8" r="2.9" fill="#00ffff"/>
<circle cx="976.4" cy="459.5" r="2.9" fill="#00ffff"/>
<circle cx="976.9" cy="463.2" r="2.9" fill="#00ffff"/>
<circle cx="975.4" cy="466.9" r="2.9" fill="#00ffff"/>
<circle cx="975.9" cy="470.6" r="2.9" fill="#00ffff"/>
<circle cx="975.6" cy="474.3" r="2.9" fill="#00ffff"/>
<circle cx="975.6" cy="478.0" r="2.9" fill="#00ffff"/>
<circle cx="976.1" cy="481.8" r="2.9" fill="#00ffff"/>
<circle cx="975.3" cy="485.5" r="2.9" fill="#00ffff"/>
<circle cx="975.6" cy="489.2" r="2.9" fill="#00ffff"/>
<circle cx="975.4" cy="492.9" r="2.9" fill="#00ffff"/>
<circle cx="976.8" cy="496.6" r="2.9" fill="#00ffff"/>
<circle cx="976.1" cy="500.3" r="2.9" fill="#00ffff"/>
<circle cx="976.6" cy="504.0" r="2.9" fill="#00ffff"/>
<circle cx="976.8" cy="507.7" r="2.9" fill="#00ffff"/>
<circle cx="974.7" cy="511.4" r="2.9" fill="#00ffff"/>
<circle cx="975.6" cy="515.1" r="2.9" fill="#00ffff"/>
<circle cx="976.7" cy="518.8" r="2.9" fill="#00ffff"/>
<circle cx="976.4" cy="522.5" r="2.9" fill="#00ffff"/>
<circle cx="974.3" cy="526.2" r="2.9" fill="#00ffff"/>
<circle cx="974.3" cy="529.9" r="2.9" fill="#00ffff"/>
<circle cx="975.2" cy="533.6" r="2.9" fill="#00ffff"/>
<circle cx="974.1" cy="537.3" r="2.9" fill="#00ffff"/>
<circle cx="974.6" cy="541.0" r="2.9" fill="#00ffff"/>
<circle cx="974.1" cy="544.7" r="2.9" fill="#00ffff"/>
<circle cx="975.9" cy="548.4" r="2.9" fill="#00ffff"/>
<circle cx="976.2" cy="552.1" r="2.9" fill="#00ffff"/>
<circle cx="976.5" cy="555.8" r="2.9" fill="#00ffff"/>
<circle cx="974.3" cy="559.5" r="2.9" fill="#00ffff"/>
<circle cx="976.0" cy="563.2" r="2.9" fill="#00ffff"/>
<circle cx="975.8" cy="566.9" r="2.9" fill="#00ffff"/>
<circle cx="974.2" cy="570.6" r="2.9" fill="#00ffff"/>
<circle cx="976.4" cy="574.3" r="2.9" fill="#00ffff"/>
<circle cx="976.7" cy="582.4" r="2.9" fill="#00ffff"/>
<circle cx="974.5" cy="590.6" r="2.9" fill="#00ffff"/>
<circle cx="976.7" cy="598.7" r="2.9" fill="#00ffff"/>
<circle cx="975.0" cy="606.9" r="2.9" fill="#00ffff"/>
<circle cx="975.3" cy="615.0" r="2.9" fill="#00ffff"/>
<circle cx="976.8" cy="623.2" r="2.9" fill="#00ffff"/>
<circle cx="976.3" cy="631.3" r="2.9" fill="#00ffff"/>
<circle cx="974.3" cy="639.5" r="2.9" fill="#00ffff"/>
<circle cx="975.2" cy="647.6" r="2.9" fill="#00ffff"/>
<circle cx="975.4" cy="655.7" r="2.9" fill="#00ffff"/>
<circle cx="974.9" cy="663.9" r="2.9" fill="#00ffff"/>
<circle cx="974.5" cy="672.0" r="2.9" fill="#00ffff"/>
<circle cx="974.8" cy="680.2" r="2.9" fill="#00ffff"/>
<circle cx="976.1" cy="688.3" r="2.9" fill="#00ffff"/>
<circle cx="974.0" cy="696.5" r="2.9" fill="#00ffff"/>
<circle cx="975.6" cy="704.6" r="2.9" fill="#00ffff"/>
<circle cx="975.2" cy="712.8" r="2.9" fill="#00ffff"/>
<circle cx="974.0" cy="720.9" r="2.9" fill="#00ffff"/>
<circle cx="974.9" cy="729.0" r="2.9" fill="#00ffff"/>
<circle cx="975.8" cy="737.2" r="2.9" fill="#00ffff"/>
<circle cx="975.5" cy="745.3" r="2.9" fill="#00ffff"/>
<circle cx="974.1" cy="753.5" r="2.9" fill="#00ffff"/>
<circle cx="976.9" cy="761.6" r="2.9" fill="#00ffff"/>
<circle cx="976.3" cy="769.8" r="2.9" fill="#00ffff"/>
<circle cx="976.9" cy="777.9" r="2.9" fill="#00ffff"/>
<circle cx="974.3" cy="786.1" r="2.9" fill="#00ffff"/>
<circle cx="974.8" cy="794.2" r="2.9" fill="#00ffff"/>
<circle cx="974.1" cy="802.3" r="2.9" fill="#00ffff"/>
<circle cx="976.3" cy="810.5" r="2.9" fill="#00ffff"/>
<circle cx="974.8" cy="818.6" r="2.9" fill="#00ffff"/>
<path d="M980.6 19.0 L980.6 26.4 L980.6 33.8 L980.6 41.2 L980.6 48.6 L980.6 56.0 L980.6 63.4 L980.6 74.5 L980.6 93.0 L980.5 111.5 L980.5 130.1 L980.5 148.6 L980.5 167.1 L980.5 185.6 L980.3 204.1 L980.0 241.1 L979.0 278.1 L978.0 315.2 L976.5 352.2 L975.0 389.2 L974.9 481.8 L974.7 574.3 L973.9 759.4 L973.0 944.5" fill="none" stroke="#ff0000" stroke-width="8.5" stroke-linejoin="round"/>
<circle cx="980.6" cy="19.0" r="6.0" fill="#ff0000"/>
<circle cx="980.6" cy="26.4" r="6.0" fill="#ff0000"/>
<circle cx="980.6" cy="33.8" r="6.0" fill="#ff0000"/>
<circle cx="980.6" cy="41.2" r="6.0" fill="#ff0000"/>
<circle cx="980.6" cy="48.6" r="6.0" fill="#ff0000"/>
<circle cx="980.6" cy="56.0" r="6.0" fill="#ff0000"/>
<circle cx="980.6" cy="63.4" r="6.0" fill="#ff0000"/>
<circle cx="980.6" cy="74.5" r="6.0" fill="#ff0000"/>
<circle cx="980.6" cy="93.0" r="6.0" fill="#ff0000"/>
<circle cx="980.5" cy="111.5" r="6.0" fill="#ff0000"/>
<circle cx="980.5" cy="130.1" r="6.0" fill="#ff0000"/>
<circle cx="980.5" cy="148.6" r="6.0" fill="#ff0000"/>
<circle cx="980.5" cy="167.1" r="6.0" fill="#ff0000"/>
<circle cx="980.5" cy="185.6" r="6.0" fill="#ff0000"/>
<circle cx="980.3" cy="204.1" r="6.0" fill="#ff0000"/>
<circle cx="980.0" cy="241.1" r="6.0" fill="#ff0000"/>
<circle cx="979.0" cy="278.1" r="6.0" fill="#ff0000"/>
<circle cx="978.0" cy="315.2" r="6.0" fill="#ff0000"/>
<circle cx="976.5" cy="352.2" r="6.0" fill="#ff0000"/>
<circle cx="975.0" cy="389.2" r="6.0" fill="#ff0000"/>
<circle cx="974.9" cy="481.8" r="6.0" fill="#ff0000"/>
<circle cx="974.7" cy="574.3" r="6.0" fill="#ff0000"/>
<circle cx="973.9" cy="759.4" r="6.0" fill="#ff0000"/>
<circle cx="973.0" cy="944.5" r="6.0" fill="#ff0000"/>
<path d="M895.3 37.5 L981.5 74.5 L981.3 111.5 L981.2 148.6 L981.0 185.6 L980.9 222.6 L980.7 259.6 L980.6 296.6 L979.6 333.7 L977.8 370.7 L976.0 407.7 L975.8 444.7 L975.5 481.8 L975.4 518.8 L975.3 555.8 L975.3 592.8 L975.3 629.8 L975.4 666.9 L975.4 703.9 L975.4 740.9 L975.5 777.9 L975.5 814.9" fill="none" stroke="#0000ff" stroke-width="3" stroke-linejoin="round"/>
<circle cx="895.3" cy="37.5" r="6.0" fill="#0000ff"/>
<circle cx="981.5" cy="74.5" r="6.0" fill="#0000ff"/>
<circle cx="981.3" cy="111.5" r="6.0" fill="#0000ff"/>
<circle cx="981.2" cy="148.6" r="6.0" fill="#0000ff"/>
<circle cx="981.0" cy="185.6" r="6.0" fill="#0000ff"/>
<circle cx="980.9" cy="222.6" r="6.0" fill="#0000ff"/>
<circle cx="980.7" cy="259.6" r="6.0" fill="#0000ff"/>
<circle cx="980.6" cy="296.6" r="6.0" fill="#0000ff"/>
<circle cx="979.6" cy="333.7" r="6.0" fill="#0000ff"/>
<circle cx="977.8" cy="370.7" r="6.0" fill="#0000ff"/>
<circle cx="976.0" cy="407.7" r="6.0" fill="#0000ff"/>
<circle cx="975.8" cy="444.7" r="6.0" fill="#0000ff"/>
<circle cx="975.5" cy="481.8" r="6.0" fill="#0000ff"/>
<circle cx="975.4" cy="518.8" r="6.0" fill="#0000ff"/>
<circle cx="975.3" cy="555.8" r="6.0" fill="#0000ff"/>
<circle cx="975.3" cy="592.8" r="6.0" fill="#0000ff"/>
<circle cx="975.3" cy="629.8" r="6.0" fill="#0000ff"/>
<circle cx="975.4" cy="666.9" r="6.0" fill="#0000ff"/>
<circle cx="975.4" cy="703.9" r="6.0" fill="#0000ff"/>
<circle cx="975.4" cy="740.9" r="6.0" fill="#0000ff"/>
<circle cx="975.5" cy="777.9" r="6.0" fill="#0000ff"/>
<circle cx="975.5" cy="814.9" r="6.0" fill="#0000ff"/>
<path d="M978.8 19.0 L978.8 26.4 L978.8 33.8 L978.8 41.2 L978.8 48.6 L978.8 56.0 L978.7 63.4 L978.7 74.5 L978.7 93.0 L978.7 111.5 L978.7 130.1 L978.6 148.6 L978.6 167.1 L978.6 185.6 L978.4 204.1 L978.0 241.1 L977.3 278.1 L976.7 315.2 L976.0 352.2 L973.0 389.2 L973.0 481.8 L973.0 574.3 L972.1 759.4 L971.5 944.5" fill="none" stroke="#c0841a" stroke-opacity="0.7" stroke-width="3.4" stroke-linejoin="round" stroke-dasharray="2.5 2"/>
<path d="M978.8 19.0 L978.8 26.4 L978.8 33.8 L978.8 41.2 L978.8 48.6 L978.8 56.0 L978.7 63.4 L978.7 74.5 L978.7 93.0 L978.7 111.5 L978.7 130.1 L978.6 148.6 L978.6 167.1 L978.6 185.6 L978.4 204.1 L978.0 241.1 L977.3 278.1 L976.7 315.2 L976.0 352.2 L973.0 389.2 L973.0 481.8 L973.0 574.3 L972.1 759.4 L971.5 944.5" fill="none" stroke="#ffa500" stroke-width="2.4" stroke-linejoin="round"/>
<circle cx="978.8" cy="19.0" r="6.4" fill="none" stroke="#c0841a" stroke-opacity="0.7" stroke-width="1.0" stroke-dasharray="2.5 2"/>
<circle cx="978.8" cy="19.0" r="6.0" fill="#ffa500"/>
<circle cx="978.8" cy="26.4" r="6.4" fill="none" stroke="#c0841a" stroke-opacity="0.7" stroke-width="1.0" stroke-dasharray="2.5 2"/>
<circle cx="978.8" cy="26.4" r="6.0" fill="#ffa500"/>
<circle cx="978.8" cy="33.8" r="6.4" fill="none" stroke="#c0841a" stroke-opacity="0.7" stroke-width="1.0" stroke-dasharray="2.5 2"/>
<circle cx="978.8" cy="33.8" r="6.0" fill="#ffa500"/>
<circle cx="978.8" cy="41.2" r="6.4" fill="none" stroke="#c0841a" stroke-opacity="0.7" stroke-width="1.0" stroke-dasharray="2.5 2"/>
<circle cx="978.8" cy="41.2" r="6.0" fill="#ffa500"/>
<circle cx="978.8" cy="48.6" r="6.4" fill="none" stroke="#c0841a" stroke-opacity="0.7" stroke-width="1.0" stroke-dasharray="2.5 2"/>
<circle cx="978.8" cy="48.6" r="6.0" fill="#ffa500"/>
<circle cx="978.8" cy="56.0" r="6.4" fill="none" stroke="#c0841a" stroke-opacity="0.7" stroke-width="1.0" stroke-dasharray="2.5 2"/>
<circle cx="978.8" cy="56.0" r="6.0" fill="#ffa500"/>
<circle cx="978.7" cy="63.4" r="6.4" fill="none" stroke="#c0841a" stroke-opacity="0.7" stroke-width="1.0" stroke-dasharray="2.5 2"/>
<circle cx="978.7" cy="63.4" r="6.0" fill="#ffa500"/>
<circle cx="978.7" cy="74.5" r="6.4" fill="none" stroke="#c0841a" stroke-opacity="0.7" stroke-width="1.0" stroke-dasharray="2.5 2"/>
<circle cx="978.7" cy="74.5" r="6.0" fill="#ffa500"/>
<circle cx="978.7" cy="93.0" r="6.4" fill="none" stroke="#c0841a" stroke-opacity="0.7" stroke-width="1.0" stroke-dasharray="2.5 2"/>
<circle cx="978.7" cy="93.0" r="6.0" fill="#ffa500"/>
<circle cx="978.7" cy="111.5" r="6.4" fill="none" stroke="#c0841a" stroke-opacity="0.7" stroke-width="1.0" stroke-dasharray="2.5 2"/>
<circle cx="978.7" cy="111.5" r="6.0" fill="#ffa500"/>
<circle cx="978.7" cy="130.1" r="6.4" fill="none" stroke="#c0841a" stroke-opacity="0.7" stroke-width="1.0" stroke-dasharray="2.5 2"/>
<circle cx="978.7" cy="130.1" r="6.0" fill="#ffa500"/>
<circle cx="978.6" cy="148.6" r="6.4" fill="none" stroke="#c0841a" stroke-opacity="0.7" stroke-width="1.0" stroke-dasharray="2.5 2"/>
<circle cx="978.6" cy="148.6" r="6.0" fill="#ffa500"/>
<circle cx="978.6" cy="167.1" r="6.4" fill="none" stroke="#c0841a" stroke-opacity="0.7" stroke-width="1.0" stroke-dasharray="2.5 2"/>
<circle cx="978.6" cy="167.1" r="6.0" fill="#ffa500"/>
<circle cx="978.6" cy="185.6" r="6.4" fill="none" stroke="#c0841a" stroke-opacity="0.7" stroke-width="1.0" stroke-dasharray="2.5 2"/>
<circle cx="978.6" cy="185.6" r="6.0" fill="#ffa500"/>
<circle cx="978.4" cy="204.1" r="6.4" fill="none" stroke="#c0841a" stroke-opacity="0.7" stroke-width="1.0" stroke-dasharray="2.5 2"/>
<circle cx="978.4" cy="204.1" r="6.0" fill="#ffa500"/>
<circle cx="978.0" cy="241.1" r="6.4" fill="none" stroke="#c0841a" stroke-opacity="0.7" stroke-width="1.0" stroke-dasharray="2.5 2"/>
<circle cx="978.0" cy="241.1" r="6.0" fill="#ffa500"/>
<circle cx="977.3" cy="278.1" r="6.4" fill="none" stroke="#c0841a" stroke-opacity="0.7" stroke-width="1.0" stroke-dasharray="2.5 2"/>
<circle cx="977.3" cy="278.1" r="6.0" fill="#ffa500"/>
<circle cx="976.7" cy="315.2" r="6.4" fill="none" stroke="#c0841a" stroke-opacity="0.7" stroke-width="1.0" stroke-dasharray="2.5 2"/>
<circle cx="976.7" cy="315.2" r="6.0" fill="#ffa500"/>
<circle cx="976.0" cy="352.2" r="6.4" fill="none" stroke="#c0841a" stroke-opacity="0.7" stroke-width="1.0" stroke-dasharray="2.5 2"/>
<circle cx="976.0" cy="352.2" r="6.0" fill="#ffa500"/>
<circle cx="973.0" cy="389.2" r="6.4" fill="none" stroke="#c0841a" stroke-opacity="0.7" stroke-width="1.0" stroke-dasharray="2.5 2"/>
<circle cx="973.0" cy="389.2" r="6.0" fill="#ffa500"/>
<circle cx="973.0" cy="481.8" r="6.4" fill="none" stroke="#c0841a" stroke-opacity="0.7" stroke-width="1.0" stroke-dasharray="2.5 2"/>
<circle cx="973.0" cy="481.8" r="6.0" fill="#ffa500"/>
<circle cx="973.0" cy="574.3" r="6.4" fill="none" stroke="#c0841a" stroke-opacity="0.7" stroke-width="1.0" stroke-dasharray="2.5 2"/>
<circle cx="973.0" cy="574.3" r="6.0" fill="#ffa500"/>
<circle cx="972.1" cy="759.4" r="6.4" fill="none" stroke="#c0841a" stroke-opacity="0.7" stroke-width="1.0" stroke-dasharray="2.5 2"/>
<circle cx="972.1" cy="759.4" r="6.0" fill="#ffa500"/>
<circle cx="971.5" cy="944.5" r="6.4" fill="none" stroke="#c0841a" stroke-opacity="0.7" stroke-width="1.0" stroke-dasharray="2.5 2"/>
<circle cx="971.5" cy="944.5" r="6.0" fill="#ffa500"/>
<path d="M970.5 19.0 L970.5 26.4 L970.6 33.8 L970.6 41.2 L970.6 48.6 L970.7 56.0 L970.7 63.4 L970.8 74.5 L970.8 93.0 L970.9 111.5 L971.0 130.1 L971.7 148.6 L972.3 167.1 L973.0 185.6 L973.7 204.1 L975.0 241.1 L976.0 278.1 L976.9 315.2 L977.5 352.2 L978.0 389.2 L978.0 481.8 L976.4 574.3 L973.5 759.4" fill="none" stroke="#008000" stroke-width="2.6" stroke-linejoin="round"/>
<circle cx="970.5" cy="19.0" r="6.0" fill="#008000"/>
<circle cx="970.5" cy="26.4" r="6.0" fill="#008000"/>
<circle cx="970.6" cy="33.8" r="6.0" fill="#008000"/>
<circle cx="970.6" cy="41.2" r="6.0" fill="#008000"/>
<circle cx="970.6" cy="48.6" r="6.0" fill="#008000"/>
<circle cx="970.7" cy="56.0" r="6.0" fill="#008000"/>
<circle cx="970.7" cy="63.4" r="6.0" fill="#008000"/>
<circle cx="970.8" cy="74.5" r="6.0" fill="#008000"/>
<circle cx="970.8" cy="93.0" r="6.0" fill="#008000"/>
<circle cx="970.9" cy="111.5" r="6.0" fill="#008000"/>
<circle cx="971.0" cy="130.1" r="6.0" fill="#008000"/>
<circle cx="971.7" cy="148.6" r="6.0" fill="#008000"/>
<circle cx="972.3" cy="167.1" r="6.0" fill="#008000"/>
<circle cx="973.0" cy="185.6" r="6.0" fill="#008000"/>
<circle cx="973.7" cy="204.1" r="6.0" fill="#008000"/>
<circle cx="975.0" cy="241.1" r="6.0" fill="#008000"/>
<circle cx="976.0" cy="278.1" r="6.0" fill="#008000"/>
<circle cx="976.9" cy="315.2" r="6.0" fill="#008000"/>
<circle cx="977.5" cy="352.2" r="6.0" fill="#008000"/>
<circle cx="978.0" cy="389.2" r="6.0" fill="#008000"/>
<circle cx="978.0" cy="481.8" r="6.0" fill="#008000"/>
<circle cx="976.4" cy="574.3" r="6.0" fill="#008000"/>
<circle cx="973.5" cy="759.4" r="6.0" fill="#008000"/>
<path d="M970.8 20.8 L970.8 24.7 L970.8 28.8 L970.8 33.1 L970.8 37.8 L970.8 42.8 L970.8 48.4 L970.8 54.4 L970.8 61.2 L970.8 68.9 L970.8 77.5 L970.8 87.5 L970.8 99.0 L970.8 112.3 L970.8 127.8 L970.8 146.3 L970.8 168.2 L970.6 194.5 L970.4 225.6 L970.4 262.6 L970.5 307.2 L973.4 360.7 L976.0 425.1" fill="none" stroke="#ff00ff" stroke-width="2.6" stroke-linejoin="round"/>
<circle cx="970.8" cy="20.8" r="6.0" fill="#ff00ff"/>
<circle cx="970.8" cy="24.7" r="6.0" fill="#ff00ff"/>
<circle cx="970.8" cy="28.8" r="6.0" fill="#ff00ff"/>
<circle cx="970.8" cy="33.1" r="6.0" fill="#ff00ff"/>
<circle cx="970.8" cy="37.8" r="6.0" fill="#ff00ff"/>
<circle cx="970.8" cy="42.8" r="6.0" fill="#ff00ff"/>
<circle cx="970.8" cy="48.4" r="6.0" fill="#ff00ff"/>
<circle cx="970.8" cy="54.4" r="6.0" fill="#ff00ff"/>
<circle cx="970.8" cy="61.2" r="6.0" fill="#ff00ff"/>
<circle cx="970.8" cy="68.9" r="6.0" fill="#ff00ff"/>
<circle cx="970.8" cy="77.5" r="6.0" fill="#ff00ff"/>
<circle cx="970.8" cy="87.5" r="6.0" fill="#ff00ff"/>
<circle cx="970.8" cy="99.0" r="6.0" fill="#ff00ff"/>
<circle cx="970.8" cy="112.3" r="6.0" fill="#ff00ff"/>
<circle cx="970.8" cy="127.8" r="6.0" fill="#ff00ff"/>
<circle cx="970.8" cy="146.3" r="6.0" fill="#ff00ff"/>
<circle cx="970.8" cy="168.2" r="6.0" fill="#ff00ff"/>
<circle cx="970.6" cy="194.5" r="6.0" fill="#ff00ff"/>
<circle cx="970.4" cy="225.6" r="6.0" fill="#ff00ff"/>
<circle cx="970.4" cy="262.6" r="6.0" fill="#ff00ff"/>
<circle cx="970.5" cy="307.2" r="6.0" fill="#ff00ff"/>
<circle cx="973.4" cy="360.7" r="6.0" fill="#ff00ff"/>
<circle cx="976.0" cy="425.1" r="6.0" fill="#ff00ff"/>
</g>
<g clip-path="url(#c3)">
<circle cx="1081.4" cy="19.0" r="3.4" fill="#00ffff"/>
<circle cx="1433.0" cy="20.9" r="2.9" fill="#00ffff"/>
<circle cx="1433.0" cy="24.6" r="2.9" fill="#00ffff"/>
<circle cx="1433.0" cy="28.3" r="2.9" fill="#00ffff"/>
<circle cx="1433.0" cy="35.7" r="2.9" fill="#00ffff"/>
<circle cx="1433.0" cy="39.4" r="2.9" fill="#00ffff"/>
<circle cx="1433.0" cy="43.1" r="2.9" fill="#00ffff"/>
<circle cx="1433.0" cy="46.8" r="2.9" fill="#00ffff"/>
<circle cx="1433.0" cy="50.5" r="2.9" fill="#00ffff"/>
<circle cx="1433.0" cy="62.7" r="2.9" fill="#00ffff"/>
<circle cx="1433.0" cy="65.3" r="2.9" fill="#00ffff"/>
<circle cx="1434.2" cy="78.2" r="2.9" fill="#00ffff"/>
<circle cx="1435.2" cy="85.6" r="2.9" fill="#00ffff"/>
<circle cx="1436.8" cy="93.0" r="2.9" fill="#00ffff"/>
<circle cx="1436.6" cy="100.4" r="2.9" fill="#00ffff"/>
<circle cx="1433.0" cy="74.5" r="2.9" fill="#00ffff"/>
<circle cx="1434.5" cy="78.2" r="2.9" fill="#00ffff"/>
<circle cx="1434.3" cy="81.9" r="2.9" fill="#00ffff"/>
<circle cx="1436.7" cy="85.6" r="2.9" fill="#00ffff"/>
<circle cx="1435.7" cy="89.3" r="2.9" fill="#00ffff"/>
<circle cx="1436.2" cy="93.0" r="2.9" fill="#00ffff"/>
<circle cx="1434.4" cy="96.7" r="2.9" fill="#00ffff"/>
<circle cx="1434.4" cy="100.4" r="2.9" fill="#00ffff"/>
<circle cx="1436.3" cy="104.1" r="2.9" fill="#00ffff"/>
<circle cx="1435.6" cy="107.8" r="2.9" fill="#00ffff"/>
<circle cx="1434.6" cy="111.5" r="2.9" fill="#00ffff"/>
<circle cx="1437.3" cy="115.3" r="2.9" fill="#00ffff"/>
<circle cx="1436.4" cy="119.0" r="2.9" fill="#00ffff"/>
<circle cx="1437.0" cy="122.7" r="2.9" fill="#00ffff"/>
<circle cx="1434.9" cy="126.4" r="2.9" fill="#00ffff"/>
<circle cx="1437.3" cy="130.1" r="2.9" fill="#00ffff"/>
<circle cx="1435.0" cy="133.8" r="2.9" fill="#00ffff"/>
<circle cx="1437.5" cy="137.5" r="2.9" fill="#00ffff"/>
<circle cx="1436.3" cy="141.2" r="2.9" fill="#00ffff"/>
<circle cx="1436.0" cy="144.9" r="2.9" fill="#00ffff"/>
<circle cx="1436.8" cy="148.6" r="2.9" fill="#00ffff"/>
<circle cx="1438.0" cy="152.3" r="2.9" fill="#00ffff"/>
<circle cx="1436.0" cy="156.0" r="2.9" fill="#00ffff"/>
<circle cx="1435.7" cy="159.7" r="2.9" fill="#00ffff"/>
<circle cx="1437.0" cy="163.4" r="2.9" fill="#00ffff"/>
<circle cx="1436.2" cy="167.1" r="2.9" fill="#00ffff"/>
<circle cx="1435.8" cy="170.8" r="2.9" fill="#00ffff"/>
<circle cx="1436.1" cy="174.5" r="2.9" fill="#00ffff"/>
<circle cx="1435.8" cy="178.2" r="2.9" fill="#00ffff"/>
<circle cx="1436.3" cy="181.9" r="2.9" fill="#00ffff"/>
<circle cx="1436.7" cy="185.6" r="2.9" fill="#00ffff"/>
<circle cx="1436.8" cy="189.3" r="2.9" fill="#00ffff"/>
<circle cx="1438.2" cy="193.0" r="2.9" fill="#00ffff"/>
<circle cx="1436.9" cy="196.7" r="2.9" fill="#00ffff"/>
<circle cx="1437.6" cy="200.4" r="2.9" fill="#00ffff"/>
<circle cx="1436.7" cy="204.1" r="2.9" fill="#00ffff"/>
<circle cx="1437.3" cy="207.8" r="2.9" fill="#00ffff"/>
<circle cx="1436.3" cy="211.5" r="2.9" fill="#00ffff"/>
<circle cx="1437.1" cy="215.2" r="2.9" fill="#00ffff"/>
<circle cx="1436.5" cy="218.9" r="2.9" fill="#00ffff"/>
<circle cx="1438.7" cy="222.6" r="2.9" fill="#00ffff"/>
<circle cx="1438.4" cy="226.3" r="2.9" fill="#00ffff"/>
<circle cx="1437.5" cy="230.0" r="2.9" fill="#00ffff"/>
<circle cx="1438.5" cy="233.7" r="2.9" fill="#00ffff"/>
<circle cx="1440.1" cy="237.4" r="2.9" fill="#00ffff"/>
<circle cx="1437.8" cy="241.1" r="2.9" fill="#00ffff"/>
<circle cx="1440.2" cy="244.8" r="2.9" fill="#00ffff"/>
<circle cx="1439.2" cy="248.5" r="2.9" fill="#00ffff"/>
<circle cx="1439.6" cy="252.2" r="2.9" fill="#00ffff"/>
<circle cx="1440.8" cy="255.9" r="2.9" fill="#00ffff"/>
<circle cx="1439.7" cy="259.6" r="2.9" fill="#00ffff"/>
<circle cx="1440.1" cy="263.3" r="2.9" fill="#00ffff"/>
<circle cx="1440.7" cy="267.0" r="2.9" fill="#00ffff"/>
<circle cx="1441.6" cy="270.7" r="2.9" fill="#00ffff"/>
<circle cx="1439.7" cy="274.4" r="2.9" fill="#00ffff"/>
<circle cx="1441.2" cy="278.1" r="2.9" fill="#00ffff"/>
<circle cx="1440.9" cy="281.8" r="2.9" fill="#00ffff"/>
<circle cx="1440.8" cy="285.5" r="2.9" fill="#00ffff"/>
<circle cx="1440.1" cy="289.2" r="2.9" fill="#00ffff"/>
<circle cx="1440.0" cy="292.9" r="2.9" fill="#00ffff"/>
<circle cx="1439.2" cy="296.6" r="2.9" fill="#00ffff"/>
<circle cx="1439.4" cy="300.4" r="2.9" fill="#00ffff"/>
<circle cx="1439.2" cy="304.1" r="2.9" fill="#00ffff"/>
<circle cx="1441.2" cy="307.8" r="2.9" fill="#00ffff"/>
<circle cx="1439.8" cy="311.5" r="2.9" fill="#00ffff"/>
<circle cx="1439.5" cy="315.2" r="2.9" fill="#00ffff"/>
<circle cx="1439.3" cy="318.9" r="2.9" fill="#00ffff"/>
<circle cx="1441.5" cy="322.6" r="2.9" fill="#00ffff"/>
<circle cx="1441.6" cy="326.3" r="2.9" fill="#00ffff"/>
<circle cx="1441.0" cy="330.0" r="2.9" fill="#00ffff"/>
<circle cx="1439.8" cy="333.7" r="2.9" fill="#00ffff"/>
<circle cx="1439.7" cy="337.4" r="2.9" fill="#00ffff"/>
<circle cx="1439.8" cy="341.1" r="2.9" fill="#00ffff"/>
<circle cx="1440.2" cy="344.8" r="2.9" fill="#00ffff"/>
<circle cx="1439.3" cy="348.5" r="2.9" fill="#00ffff"/>
<circle cx="1440.1" cy="352.2" r="2.9" fill="#00ffff"/>
<circle cx="1439.5" cy="355.9" r="2.9" fill="#00ffff"/>
<circle cx="1441.5" cy="359.6" r="2.9" fill="#00ffff"/>
<circle cx="1441.5" cy="363.3" r="2.9" fill="#00ffff"/>
<circle cx="1440.2" cy="367.0" r="2.9" fill="#00ffff"/>
<circle cx="1439.2" cy="370.7" r="2.9" fill="#00ffff"/>
<circle cx="1441.3" cy="374.4" r="2.9" fill="#00ffff"/>
<circle cx="1439.3" cy="378.1" r="2.9" fill="#00ffff"/>
<circle cx="1439.4" cy="381.8" r="2.9" fill="#00ffff"/>
<circle cx="1438.3" cy="385.5" r="2.9" fill="#00ffff"/>
<circle cx="1439.4" cy="389.2" r="2.9" fill="#00ffff"/>
<circle cx="1439.6" cy="392.9" r="2.9" fill="#00ffff"/>
<circle cx="1439.7" cy="396.6" r="2.9" fill="#00ffff"/>
<circle cx="1438.7" cy="400.3" r="2.9" fill="#00ffff"/>
<circle cx="1439.6" cy="404.0" r="2.9" fill="#00ffff"/>
<circle cx="1438.0" cy="407.7" r="2.9" fill="#00ffff"/>
<circle cx="1438.7" cy="411.4" r="2.9" fill="#00ffff"/>
<circle cx="1438.2" cy="415.1" r="2.9" fill="#00ffff"/>
<circle cx="1439.0" cy="418.8" r="2.9" fill="#00ffff"/>
<circle cx="1437.9" cy="422.5" r="2.9" fill="#00ffff"/>
<circle cx="1437.8" cy="426.2" r="2.9" fill="#00ffff"/>
<circle cx="1438.6" cy="429.9" r="2.9" fill="#00ffff"/>
<circle cx="1438.3" cy="433.6" r="2.9" fill="#00ffff"/>
<circle cx="1439.4" cy="437.3" r="2.9" fill="#00ffff"/>
<circle cx="1439.1" cy="441.0" r="2.9" fill="#00ffff"/>
<circle cx="1439.8" cy="444.7" r="2.9" fill="#00ffff"/>
<circle cx="1439.6" cy="448.4" r="2.9" fill="#00ffff"/>
<circle cx="1439.9" cy="452.1" r="2.9" fill="#00ffff"/>
<circle cx="1440.6" cy="455.8" r="2.9" fill="#00ffff"/>
<circle cx="1439.3" cy="459.5" r="2.9" fill="#00ffff"/>
<circle cx="1439.2" cy="463.2" r="2.9" fill="#00ffff"/>
<circle cx="1441.4" cy="466.9" r="2.9" fill="#00ffff"/>
<circle cx="1439.0" cy="470.6" r="2.9" fill="#00ffff"/>
<circle cx="1440.9" cy="474.3" r="2.9" fill="#00ffff"/>
<circle cx="1440.8" cy="478.0" r="2.9" fill="#00ffff"/>
<circle cx="1439.1" cy="481.8" r="2.9" fill="#00ffff"/>
<circle cx="1441.7" cy="485.5" r="2.9" fill="#00ffff"/>
<circle cx="1442.0" cy="489.2" r="2.9" fill="#00ffff"/>
<circle cx="1441.3" cy="492.9" r="2.9" fill="#00ffff"/>
<circle cx="1441.8" cy="496.6" r="2.9" fill="#00ffff"/>
<circle cx="1442.2" cy="500.3" r="2.9" fill="#00ffff"/>
<circle cx="1440.3" cy="504.0" r="2.9" fill="#00ffff"/>
<circle cx="1441.6" cy="507.7" r="2.9" fill="#00ffff"/>
<circle cx="1441.7" cy="511.4" r="2.9" fill="#00ffff"/>
<circle cx="1442.9" cy="515.1" r="2.9" fill="#00ffff"/>
<circle cx="1442.9" cy="518.8" r="2.9" fill="#00ffff"/>
<circle cx="1443.2" cy="522.5" r="2.9" fill="#00ffff"/>
<circle cx="1442.6" cy="526.2" r="2.9" fill="#00ffff"/>
<circle cx="1443.7" cy="529.9" r="2.9" fill="#00ffff"/>
<circle cx="1443.2" cy="533.6" r="2.9" fill="#00ffff"/>
<circle cx="1443.5" cy="537.3" r="2.9" fill="#00ffff"/>
<circle cx="1442.2" cy="541.0" r="2.9" fill="#00ffff"/>
<circle cx="1441.8" cy="544.7" r="2.9" fill="#00ffff"/>
<circle cx="1442.3" cy="548.4" r="2.9" fill="#00ffff"/>
<circle cx="1443.2" cy="552.1" r="2.9" fill="#00ffff"/>
<circle cx="1442.6" cy="555.8" r="2.9" fill="#00ffff"/>
<circle cx="1444.9" cy="559.5" r="2.9" fill="#00ffff"/>
<circle cx="1444.3" cy="563.2" r="2.9" fill="#00ffff"/>
<circle cx="1444.7" cy="566.9" r="2.9" fill="#00ffff"/>
<circle cx="1444.8" cy="570.6" r="2.9" fill="#00ffff"/>
<circle cx="1445.2" cy="574.3" r="2.9" fill="#00ffff"/>
<circle cx="1445.0" cy="582.4" r="2.9" fill="#00ffff"/>
<circle cx="1443.9" cy="590.6" r="2.9" fill="#00ffff"/>
<circle cx="1447.0" cy="598.7" r="2.9" fill="#00ffff"/>
<circle cx="1447.6" cy="606.9" r="2.9" fill="#00ffff"/>
<circle cx="1447.6" cy="615.0" r="2.9" fill="#00ffff"/>
<circle cx="1448.5" cy="623.2" r="2.9" fill="#00ffff"/>
<circle cx="1449.6" cy="631.3" r="2.9" fill="#00ffff"/>
<circle cx="1448.2" cy="639.5" r="2.9" fill="#00ffff"/>
<circle cx="1450.7" cy="647.6" r="2.9" fill="#00ffff"/>
<circle cx="1449.7" cy="655.7" r="2.9" fill="#00ffff"/>
<circle cx="1449.6" cy="663.9" r="2.9" fill="#00ffff"/>
<circle cx="1450.5" cy="672.0" r="2.9" fill="#00ffff"/>
<circle cx="1452.1" cy="680.2" r="2.9" fill="#00ffff"/>
<circle cx="1450.8" cy="688.3" r="2.9" fill="#00ffff"/>
<circle cx="1452.7" cy="696.5" r="2.9" fill="#00ffff"/>
<circle cx="1453.6" cy="704.6" r="2.9" fill="#00ffff"/>
<circle cx="1452.3" cy="712.8" r="2.9" fill="#00ffff"/>
<circle cx="1452.1" cy="720.9" r="2.9" fill="#00ffff"/>
<circle cx="1452.5" cy="729.0" r="2.9" fill="#00ffff"/>
<circle cx="1453.3" cy="737.2" r="2.9" fill="#00ffff"/>
<circle cx="1453.6" cy="745.3" r="2.9" fill="#00ffff"/>
<circle cx="1453.2" cy="753.5" r="2.9" fill="#00ffff"/>
<circle cx="1453.2" cy="761.6" r="2.9" fill="#00ffff"/>
<circle cx="1451.5" cy="769.8" r="2.9" fill="#00ffff"/>
<circle cx="1451.7" cy="777.9" r="2.9" fill="#00ffff"/>
<circle cx="1452.0" cy="786.1" r="2.9" fill="#00ffff"/>
<circle cx="1453.4" cy="794.2" r="2.9" fill="#00ffff"/>
<circle cx="1452.0" cy="802.3" r="2.9" fill="#00ffff"/>
<circle cx="1452.7" cy="810.5" r="2.9" fill="#00ffff"/>
<circle cx="1451.0" cy="818.6" r="2.9" fill="#00ffff"/>
<path d="M1429.5 19.0 L1429.5 26.4 L1429.5 33.8 L1429.6 41.2 L1429.6 48.6 L1429.6 56.0 L1429.6 63.4 L1429.7 74.5 L1429.7 93.0 L1429.8 111.5 L1429.8 130.1 L1429.9 148.6 L1429.9 167.1 L1430.0 185.6 L1430.7 204.1 L1432.0 241.1 L1435.0 278.1 L1437.5 315.2 L1439.5 352.2 L1441.5 389.2 L1446.3 481.8 L1449.0 574.3 L1453.5 759.4 L1458.0 944.5" fill="none" stroke="#ff0000" stroke-width="8.5" stroke-linejoin="round"/>
<circle cx="1429.5" cy="19.0" r="6.0" fill="#ff0000"/>
<circle cx="1429.5" cy="26.4" r="6.0" fill="#ff0000"/>
<circle cx="1429.5" cy="33.8" r="6.0" fill="#ff0000"/>
<circle cx="1429.6" cy="41.2" r="6.0" fill="#ff0000"/>
<circle cx="1429.6" cy="48.6" r="6.0" fill="#ff0000"/>
<circle cx="1429.6" cy="56.0" r="6.0" fill="#ff0000"/>
<circle cx="1429.6" cy="63.4" r="6.0" fill="#ff0000"/>
<circle cx="1429.7" cy="74.5" r="6.0" fill="#ff0000"/>
<circle cx="1429.7" cy="93.0" r="6.0" fill="#ff0000"/>
<circle cx="1429.8" cy="111.5" r="6.0" fill="#ff0000"/>
<circle cx="1429.8" cy="130.1" r="6.0" fill="#ff0000"/>
<circle cx="1429.9" cy="148.6" r="6.0" fill="#ff0000"/>
<circle cx="1429.9" cy="167.1" r="6.0" fill="#ff0000"/>
<circle cx="1430.0" cy="185.6" r="6.0" fill="#ff0000"/>
<circle cx="1430.7" cy="204.1" r="6.0" fill="#ff0000"/>
<circle cx="1432.0" cy="241.1" r="6.0" fill="#ff0000"/>
<circle cx="1435.0" cy="278.1" r="6.0" fill="#ff0000"/>
<circle cx="1437.5" cy="315.2" r="6.0" fill="#ff0000"/>
<circle cx="1439.5" cy="352.2" r="6.0" fill="#ff0000"/>
<circle cx="1441.5" cy="389.2" r="6.0" fill="#ff0000"/>
<circle cx="1446.3" cy="481.8" r="6.0" fill="#ff0000"/>
<circle cx="1449.0" cy="574.3" r="6.0" fill="#ff0000"/>
<circle cx="1453.5" cy="759.4" r="6.0" fill="#ff0000"/>
<circle cx="1458.0" cy="944.5" r="6.0" fill="#ff0000"/>
<path d="M1358.1 37.5 L1435.2 74.5 L1435.9 111.5 L1436.6 148.6 L1437.3 185.6 L1438.0 222.6 L1440.0 259.6 L1440.5 296.6 L1440.5 333.7 L1440.0 370.7 L1439.5 407.7 L1439.0 444.7 L1440.5 481.8 L1442.0 518.8 L1443.8 555.8 L1445.5 592.8 L1449.0 629.8 L1451.0 666.9 L1452.2 703.9 L1452.8 740.9 L1452.8 777.9 L1452.5 814.9" fill="none" stroke="#0000ff" stroke-width="3" stroke-linejoin="round"/>
<circle cx="1358.1" cy="37.5" r="6.0" fill="#0000ff"/>
<circle cx="1435.2" cy="74.5" r="6.0" fill="#0000ff"/>
<circle cx="1435.9" cy="111.5" r="6.0" fill="#0000ff"/>
<circle cx="1436.6" cy="148.6" r="6.0" fill="#0000ff"/>
<circle cx="1437.3" cy="185.6" r="6.0" fill="#0000ff"/>
<circle cx="1438.0" cy="222.6" r="6.0" fill="#0000ff"/>
<circle cx="1440.0" cy="259.6" r="6.0" fill="#0000ff"/>
<circle cx="1440.5" cy="296.6" r="6.0" fill="#0000ff"/>
<circle cx="1440.5" cy="333.7" r="6.0" fill="#0000ff"/>
<circle cx="1440.0" cy="370.7" r="6.0" fill="#0000ff"/>
<circle cx="1439.5" cy="407.7" r="6.0" fill="#0000ff"/>
<circle cx="1439.0" cy="444.7" r="6.0" fill="#0000ff"/>
<circle cx="1440.5" cy="481.8" r="6.0" fill="#0000ff"/>
<circle cx="1442.0" cy="518.8" r="6.0" fill="#0000ff"/>
<circle cx="1443.8" cy="555.8" r="6.0" fill="#0000ff"/>
<circle cx="1445.5" cy="592.8" r="6.0" fill="#0000ff"/>
<circle cx="1449.0" cy="629.8" r="6.0" fill="#0000ff"/>
<circle cx="1451.0" cy="666.9" r="6.0" fill="#0000ff"/>
<circle cx="1452.2" cy="703.9" r="6.0" fill="#0000ff"/>
<circle cx="1452.8" cy="740.9" r="6.0" fill="#0000ff"/>
<circle cx="1452.8" cy="777.9" r="6.0" fill="#0000ff"/>
<circle cx="1452.5" cy="814.9" r="6.0" fill="#0000ff"/>
<path d="M1428.5 19.0 L1428.5 26.4 L1428.5 33.8 L1428.5 41.2 L1428.5 48.6 L1428.5 56.0 L1428.5 63.4 L1428.5 74.5 L1428.5 93.0 L1428.5 111.5 L1431.0 130.1 L1433.5 148.6 L1436.0 167.1 L1438.5 185.6 L1439.8 204.1 L1441.1 241.1 L1442.9 278.1 L1444.8 315.2 L1445.3 352.2 L1446.4 389.2 L1451.4 481.8 L1454.8 574.3 L1458.2 759.4 L1461.0 944.5" fill="none" stroke="#c0841a" stroke-opacity="0.7" stroke-width="3.4" stroke-linejoin="round" stroke-dasharray="2.5 2"/>
<path d="M1428.5 19.0 L1428.5 26.4 L1428.5 33.8 L1428.5 41.2 L1428.5 48.6 L1428.5 56.0 L1428.5 63.4 L1428.5 74.5 L1428.5 93.0 L1428.5 111.5 L1431.0 130.1 L1433.5 148.6 L1436.0 167.1 L1438.5 185.6 L1439.8 204.1 L1441.1 241.1 L1442.9 278.1 L1444.8 315.2 L1445.3 352.2 L1446.4 389.2 L1451.4 481.8 L1454.8 574.3 L1458.2 759.4 L1461.0 944.5" fill="none" stroke="#ffa500" stroke-width="2.4" stroke-linejoin="round"/>
<circle cx="1428.5" cy="19.0" r="6.4" fill="none" stroke="#c0841a" stroke-opacity="0.7" stroke-width="1.0" stroke-dasharray="2.5 2"/>
<circle cx="1428.5" cy="19.0" r="6.0" fill="#ffa500"/>
<circle cx="1428.5" cy="26.4" r="6.4" fill="none" stroke="#c0841a" stroke-opacity="0.7" stroke-width="1.0" stroke-dasharray="2.5 2"/>
<circle cx="1428.5" cy="26.4" r="6.0" fill="#ffa500"/>
<circle cx="1428.5" cy="33.8" r="6.4" fill="none" stroke="#c0841a" stroke-opacity="0.7" stroke-width="1.0" stroke-dasharray="2.5 2"/>
<circle cx="1428.5" cy="33.8" r="6.0" fill="#ffa500"/>
<circle cx="1428.5" cy="41.2" r="6.4" fill="none" stroke="#c0841a" stroke-opacity="0.7" stroke-width="1.0" stroke-dasharray="2.5 2"/>
<circle cx="1428.5" cy="41.2" r="6.0" fill="#ffa500"/>
<circle cx="1428.5" cy="48.6" r="6.4" fill="none" stroke="#c0841a" stroke-opacity="0.7" stroke-width="1.0" stroke-dasharray="2.5 2"/>
<circle cx="1428.5" cy="48.6" r="6.0" fill="#ffa500"/>
<circle cx="1428.5" cy="56.0" r="6.4" fill="none" stroke="#c0841a" stroke-opacity="0.7" stroke-width="1.0" stroke-dasharray="2.5 2"/>
<circle cx="1428.5" cy="56.0" r="6.0" fill="#ffa500"/>
<circle cx="1428.5" cy="63.4" r="6.4" fill="none" stroke="#c0841a" stroke-opacity="0.7" stroke-width="1.0" stroke-dasharray="2.5 2"/>
<circle cx="1428.5" cy="63.4" r="6.0" fill="#ffa500"/>
<circle cx="1428.5" cy="74.5" r="6.4" fill="none" stroke="#c0841a" stroke-opacity="0.7" stroke-width="1.0" stroke-dasharray="2.5 2"/>
<circle cx="1428.5" cy="74.5" r="6.0" fill="#ffa500"/>
<circle cx="1428.5" cy="93.0" r="6.4" fill="none" stroke="#c0841a" stroke-opacity="0.7" stroke-width="1.0" stroke-dasharray="2.5 2"/>
<circle cx="1428.5" cy="93.0" r="6.0" fill="#ffa500"/>
<circle cx="1428.5" cy="111.5" r="6.4" fill="none" stroke="#c0841a" stroke-opacity="0.7" stroke-width="1.0" stroke-dasharray="2.5 2"/>
<circle cx="1428.5" cy="111.5" r="6.0" fill="#ffa500"/>
<circle cx="1431.0" cy="130.1" r="6.4" fill="none" stroke="#c0841a" stroke-opacity="0.7" stroke-width="1.0" stroke-dasharray="2.5 2"/>
<circle cx="1431.0" cy="130.1" r="6.0" fill="#ffa500"/>
<circle cx="1433.5" cy="148.6" r="6.4" fill="none" stroke="#c0841a" stroke-opacity="0.7" stroke-width="1.0" stroke-dasharray="2.5 2"/>
<circle cx="1433.5" cy="148.6" r="6.0" fill="#ffa500"/>
<circle cx="1436.0" cy="167.1" r="6.4" fill="none" stroke="#c0841a" stroke-opacity="0.7" stroke-width="1.0" stroke-dasharray="2.5 2"/>
<circle cx="1436.0" cy="167.1" r="6.0" fill="#ffa500"/>
<circle cx="1438.5" cy="185.6" r="6.4" fill="none" stroke="#c0841a" stroke-opacity="0.7" stroke-width="1.0" stroke-dasharray="2.5 2"/>
<circle cx="1438.5" cy="185.6" r="6.0" fill="#ffa500"/>
<circle cx="1439.8" cy="204.1" r="6.4" fill="none" stroke="#c0841a" stroke-opacity="0.7" stroke-width="1.0" stroke-dasharray="2.5 2"/>
<circle cx="1439.8" cy="204.1" r="6.0" fill="#ffa500"/>
<circle cx="1441.1" cy="241.1" r="6.4" fill="none" stroke="#c0841a" stroke-opacity="0.7" stroke-width="1.0" stroke-dasharray="2.5 2"/>
<circle cx="1441.1" cy="241.1" r="6.0" fill="#ffa500"/>
<circle cx="1442.9" cy="278.1" r="6.4" fill="none" stroke="#c0841a" stroke-opacity="0.7" stroke-width="1.0" stroke-dasharray="2.5 2"/>
<circle cx="1442.9" cy="278.1" r="6.0" fill="#ffa500"/>
<circle cx="1444.8" cy="315.2" r="6.4" fill="none" stroke="#c0841a" stroke-opacity="0.7" stroke-width="1.0" stroke-dasharray="2.5 2"/>
<circle cx="1444.8" cy="315.2" r="6.0" fill="#ffa500"/>
<circle cx="1445.3" cy="352.2" r="6.4" fill="none" stroke="#c0841a" stroke-opacity="0.7" stroke-width="1.0" stroke-dasharray="2.5 2"/>
<circle cx="1445.3" cy="352.2" r="6.0" fill="#ffa500"/>
<circle cx="1446.4" cy="389.2" r="6.4" fill="none" stroke="#c0841a" stroke-opacity="0.7" stroke-width="1.0" stroke-dasharray="2.5 2"/>
<circle cx="1446.4" cy="389.2" r="6.0" fill="#ffa500"/>
<circle cx="1451.4" cy="481.8" r="6.4" fill="none" stroke="#c0841a" stroke-opacity="0.7" stroke-width="1.0" stroke-dasharray="2.5 2"/>
<circle cx="1451.4" cy="481.8" r="6.0" fill="#ffa500"/>
<circle cx="1454.8" cy="574.3" r="6.4" fill="none" stroke="#c0841a" stroke-opacity="0.7" stroke-width="1.0" stroke-dasharray="2.5 2"/>
<circle cx="1454.8" cy="574.3" r="6.0" fill="#ffa500"/>
<circle cx="1458.2" cy="759.4" r="6.4" fill="none" stroke="#c0841a" stroke-opacity="0.7" stroke-width="1.0" stroke-dasharray="2.5 2"/>
<circle cx="1458.2" cy="759.4" r="6.0" fill="#ffa500"/>
<circle cx="1461.0" cy="944.5" r="6.4" fill="none" stroke="#c0841a" stroke-opacity="0.7" stroke-width="1.0" stroke-dasharray="2.5 2"/>
<circle cx="1461.0" cy="944.5" r="6.0" fill="#ffa500"/>
<path d="M1431.5 19.0 L1431.6 26.4 L1431.7 33.8 L1431.8 41.2 L1431.9 48.6 L1432.0 56.0 L1432.1 63.4 L1432.3 74.5 L1432.5 93.0 L1432.8 111.5 L1433.2 130.1 L1433.5 148.6 L1433.9 167.1 L1434.3 185.6 L1434.4 204.1 L1434.7 241.1 L1435.5 278.1 L1436.2 315.2 L1436.2 352.2 L1438.4 389.2 L1444.1 481.8 L1449.3 574.3 L1456.6 759.4" fill="none" stroke="#008000" stroke-width="2.6" stroke-linejoin="round"/>
<circle cx="1431.5" cy="19.0" r="6.0" fill="#008000"/>
<circle cx="1431.6" cy="26.4" r="6.0" fill="#008000"/>
<circle cx="1431.7" cy="33.8" r="6.0" fill="#008000"/>
<circle cx="1431.8" cy="41.2" r="6.0" fill="#008000"/>
<circle cx="1431.9" cy="48.6" r="6.0" fill="#008000"/>
<circle cx="1432.0" cy="56.0" r="6.0" fill="#008000"/>
<circle cx="1432.1" cy="63.4" r="6.0" fill="#008000"/>
<circle cx="1432.3" cy="74.5" r="6.0" fill="#008000"/>
<circle cx="1432.5" cy="93.0" r="6.0" fill="#008000"/>
<circle cx="1432.8" cy="111.5" r="6.0" fill="#008000"/>
<circle cx="1433.2" cy="130.1" r="6.0" fill="#008000"/>
<circle cx="1433.5" cy="148.6" r="6.0" fill="#008000"/>
<circle cx="1433.9" cy="167.1" r="6.0" fill="#008000"/>
<circle cx="1434.3" cy="185.6" r="6.0" fill="#008000"/>
<circle cx="1434.4" cy="204.1" r="6.0" fill="#008000"/>
<circle cx="1434.7" cy="241.1" r="6.0" fill="#008000"/>
<circle cx="1435.5" cy="278.1" r="6.0" fill="#008000"/>
<circle cx="1436.2" cy="315.2" r="6.0" fill="#008000"/>
<circle cx="1436.2" cy="352.2" r="6.0" fill="#008000"/>
<circle cx="1438.4" cy="389.2" r="6.0" fill="#008000"/>
<circle cx="1444.1" cy="481.8" r="6.0" fill="#008000"/>
<circle cx="1449.3" cy="574.3" r="6.0" fill="#008000"/>
<circle cx="1456.6" cy="759.4" r="6.0" fill="#008000"/>
<path d="M1428.8 20.8 L1428.8 24.7 L1428.8 28.8 L1428.8 33.1 L1428.8 37.8 L1428.8 42.8 L1428.8 48.4 L1428.8 54.4 L1428.8 61.2 L1428.8 68.9 L1428.8 77.5 L1428.8 87.5 L1428.8 99.0 L1428.8 112.3 L1429.4 127.8 L1430.2 146.3 L1431.0 168.2 L1431.8 194.5 L1432.1 225.6 L1433.2 262.6 L1434.6 307.2 L1435.5 360.7 L1437.0 425.1" fill="none" stroke="#ff00ff" stroke-width="2.6" stroke-linejoin="round"/>
<circle cx="1428.8" cy="20.8" r="6.0" fill="#ff00ff"/>
<circle cx="1428.8" cy="24.7" r="6.0" fill="#ff00ff"/>
<circle cx="1428.8" cy="28.8" r="6.0" fill="#ff00ff"/>
<circle cx="1428.8" cy="33.1" r="6.0" fill="#ff00ff"/>
<circle cx="1428.8" cy="37.8" r="6.0" fill="#ff00ff"/>
<circle cx="1428.8" cy="42.8" r="6.0" fill="#ff00ff"/>
<circle cx="1428.8" cy="48.4" r="6.0" fill="#ff00ff"/>
<circle cx="1428.8" cy="54.4" r="6.0" fill="#ff00ff"/>
<circle cx="1428.8" cy="61.2" r="6.0" fill="#ff00ff"/>
<circle cx="1428.8" cy="68.9" r="6.0" fill="#ff00ff"/>
<circle cx="1428.8" cy="77.5" r="6.0" fill="#ff00ff"/>
<circle cx="1428.8" cy="87.5" r="6.0" fill="#ff00ff"/>
<circle cx="1428.8" cy="99.0" r="6.0" fill="#ff00ff"/>
<circle cx="1428.8" cy="112.3" r="6.0" fill="#ff00ff"/>
<circle cx="1429.4" cy="127.8" r="6.0" fill="#ff00ff"/>
<circle cx="1430.2" cy="146.3" r="6.0" fill="#ff00ff"/>
<circle cx="1431.0" cy="168.2" r="6.0" fill="#ff00ff"/>
<circle cx="1431.8" cy="194.5" r="6.0" fill="#ff00ff"/>
<circle cx="1432.1" cy="225.6" r="6.0" fill="#ff00ff"/>
<circle cx="1433.2" cy="262.6" r="6.0" fill="#ff00ff"/>
<circle cx="1434.6" cy="307.2" r="6.0" fill="#ff00ff"/>
<circle cx="1435.5" cy="360.7" r="6.0" fill="#ff00ff"/>
<circle cx="1437.0" cy="425.1" r="6.0" fill="#ff00ff"/>
</g>
<rect x="88.4" y="19.4" width="401.0" height="794.8" fill="none" stroke="#000" stroke-width="1.4"/>
<g stroke="#000" stroke-width="1.4">
<line x1="98.5" y1="814.2" x2="98.5" y2="820.2"/>
<line x1="204.6" y1="814.2" x2="204.6" y2="820.2"/>
<line x1="310.7" y1="814.2" x2="310.7" y2="820.2"/>
<line x1="416.8" y1="814.2" x2="416.8" y2="820.2"/>
<line x1="82.4" y1="19.0" x2="88.4" y2="19.0"/>
<line x1="82.4" y1="111.5" x2="88.4" y2="111.5"/>
<line x1="82.4" y1="204.1" x2="88.4" y2="204.1"/>
<line x1="82.4" y1="296.6" x2="88.4" y2="296.6"/>
<line x1="82.4" y1="389.2" x2="88.4" y2="389.2"/>
<line x1="82.4" y1="481.8" x2="88.4" y2="481.8"/>
<line x1="82.4" y1="574.3" x2="88.4" y2="574.3"/>
<line x1="82.4" y1="666.9" x2="88.4" y2="666.9"/>
<line x1="82.4" y1="759.4" x2="88.4" y2="759.4"/>
</g>
<rect x="580.5" y="19.4" width="402.0" height="794.8" fill="none" stroke="#000" stroke-width="1.4"/>
<g stroke="#000" stroke-width="1.4">
<line x1="583.5" y1="814.2" x2="583.5" y2="820.2"/>
<line x1="693.8" y1="814.2" x2="693.8" y2="820.2"/>
<line x1="804.1" y1="814.2" x2="804.1" y2="820.2"/>
<line x1="914.4" y1="814.2" x2="914.4" y2="820.2"/>
<line x1="574.5" y1="19.0" x2="580.5" y2="19.0"/>
<line x1="574.5" y1="111.5" x2="580.5" y2="111.5"/>
<line x1="574.5" y1="204.1" x2="580.5" y2="204.1"/>
<line x1="574.5" y1="296.6" x2="580.5" y2="296.6"/>
<line x1="574.5" y1="389.2" x2="580.5" y2="389.2"/>
<line x1="574.5" y1="481.8" x2="580.5" y2="481.8"/>
<line x1="574.5" y1="574.3" x2="580.5" y2="574.3"/>
<line x1="574.5" y1="666.9" x2="580.5" y2="666.9"/>
<line x1="574.5" y1="759.4" x2="580.5" y2="759.4"/>
</g>
<rect x="1072.6" y="19.4" width="401.8" height="794.8" fill="none" stroke="#000" stroke-width="1.4"/>
<g stroke="#000" stroke-width="1.4">
<line x1="1081.4" y1="814.2" x2="1081.4" y2="820.2"/>
<line x1="1148.3" y1="814.2" x2="1148.3" y2="820.2"/>
<line x1="1215.2" y1="814.2" x2="1215.2" y2="820.2"/>
<line x1="1282.1" y1="814.2" x2="1282.1" y2="820.2"/>
<line x1="1349.0" y1="814.2" x2="1349.0" y2="820.2"/>
<line x1="1415.9" y1="814.2" x2="1415.9" y2="820.2"/>
<line x1="1066.6" y1="19.0" x2="1072.6" y2="19.0"/>
<line x1="1066.6" y1="111.5" x2="1072.6" y2="111.5"/>
<line x1="1066.6" y1="204.1" x2="1072.6" y2="204.1"/>
<line x1="1066.6" y1="296.6" x2="1072.6" y2="296.6"/>
<line x1="1066.6" y1="389.2" x2="1072.6" y2="389.2"/>
<line x1="1066.6" y1="481.8" x2="1072.6" y2="481.8"/>
<line x1="1066.6" y1="574.3" x2="1072.6" y2="574.3"/>
<line x1="1066.6" y1="666.9" x2="1072.6" y2="666.9"/>
<line x1="1066.6" y1="759.4" x2="1072.6" y2="759.4"/>
</g>
<g font-family='"Liberation Sans", sans-serif' font-size="18" fill="#000">
<text x="75" y="27.0" text-anchor="end" textLength="10.8" lengthAdjust="spacingAndGlyphs">0</text>
<text x="75" y="119.5" text-anchor="end" textLength="21.5" lengthAdjust="spacingAndGlyphs">25</text>
<text x="75" y="212.1" text-anchor="end" textLength="21.5" lengthAdjust="spacingAndGlyphs">50</text>
<text x="75" y="304.6" text-anchor="end" textLength="21.5" lengthAdjust="spacingAndGlyphs">75</text>
<text x="75" y="397.2" text-anchor="end" textLength="32.2" lengthAdjust="spacingAndGlyphs">100</text>
<text x="75" y="489.8" text-anchor="end" textLength="32.2" lengthAdjust="spacingAndGlyphs">125</text>
<text x="75" y="582.3" text-anchor="end" textLength="32.2" lengthAdjust="spacingAndGlyphs">150</text>
<text x="75" y="674.9" text-anchor="end" textLength="32.2" lengthAdjust="spacingAndGlyphs">175</text>
<text x="75" y="767.4" text-anchor="end" textLength="32.2" lengthAdjust="spacingAndGlyphs">200</text>
<text x="98.5" y="842" text-anchor="middle" textLength="10.8" lengthAdjust="spacingAndGlyphs">0</text>
<text x="204.6" y="842" text-anchor="middle" textLength="10.8" lengthAdjust="spacingAndGlyphs">5</text>
<text x="310.7" y="842" text-anchor="middle" textLength="21.5" lengthAdjust="spacingAndGlyphs">10</text>
<text x="416.8" y="842" text-anchor="middle" textLength="21.5" lengthAdjust="spacingAndGlyphs">15</text>
<text x="583.5" y="842" text-anchor="middle" textLength="10.8" lengthAdjust="spacingAndGlyphs">0</text>
<text x="693.8" y="842" text-anchor="middle" textLength="21.5" lengthAdjust="spacingAndGlyphs">10</text>
<text x="804.1" y="842" text-anchor="middle" textLength="21.5" lengthAdjust="spacingAndGlyphs">20</text>
<text x="914.4" y="842" text-anchor="middle" textLength="21.5" lengthAdjust="spacingAndGlyphs">30</text>
<text transform="translate(1080.4,850) rotate(-45)" x="0" y="6.4" text-anchor="middle" textLength="43" lengthAdjust="spacingAndGlyphs">1000</text>
<text transform="translate(1147.3,850) rotate(-45)" x="0" y="6.4" text-anchor="middle" textLength="43" lengthAdjust="spacingAndGlyphs">1005</text>
<text transform="translate(1214.2,850) rotate(-45)" x="0" y="6.4" text-anchor="middle" textLength="43" lengthAdjust="spacingAndGlyphs">1010</text>
<text transform="translate(1281.1,850) rotate(-45)" x="0" y="6.4" text-anchor="middle" textLength="43" lengthAdjust="spacingAndGlyphs">1015</text>
<text transform="translate(1348.0,850) rotate(-45)" x="0" y="6.4" text-anchor="middle" textLength="43" lengthAdjust="spacingAndGlyphs">1020</text>
<text transform="translate(1414.9,850) rotate(-45)" x="0" y="6.4" text-anchor="middle" textLength="43" lengthAdjust="spacingAndGlyphs">1025</text>
</g>
<text font-family='"Liberation Sans", sans-serif' font-weight="bold" font-size="23" transform="translate(30.6,418.3) rotate(-90)" text-anchor="middle" textLength="129.5" lengthAdjust="spacingAndGlyphs">Depth (m)</text>
<text font-family='"Liberation Sans", sans-serif' font-weight="bold" font-size="23" x="179.3" y="872" textLength="181.5" lengthAdjust="spacingAndGlyphs">Temperature (</text>
<text font-family='"Liberation Sans", sans-serif' font-style="italic" font-size="16" x="362" y="862.5">o</text>
<text font-family='"Liberation Sans", sans-serif' font-style="italic" font-size="23" x="373" y="871.8" textLength="15.5" lengthAdjust="spacingAndGlyphs">C</text>
<text font-family='"Liberation Sans", sans-serif' font-weight="bold" font-size="23" x="389" y="872">)</text>
<text font-family='"Liberation Sans", sans-serif' font-weight="bold" font-size="23" x="733.3" y="869.8" textLength="96" lengthAdjust="spacingAndGlyphs">Salinity</text>
<text font-family='"Liberation Sans", sans-serif' font-weight="bold" font-size="23" x="1166" y="895.7" textLength="212" lengthAdjust="spacingAndGlyphs">Density (kg m-3)</text>
<text font-family='"Liberation Sans", sans-serif' font-weight="bold" font-size="23" x="1525" y="36.7" textLength="378" lengthAdjust="spacingAndGlyphs">Comparison Date: 2025-01-16</text>
<text font-family='"Liberation Sans", sans-serif' font-weight="bold" font-size="23" x="1525" y="89.9" textLength="179" lengthAdjust="spacingAndGlyphs">Glider: cp_388</text>
<text font-family='"Liberation Sans", sans-serif' font-weight="bold" font-size="23" x="1525" y="116.2" textLength="127.4" lengthAdjust="spacingAndGlyphs">Profiles: 7</text>
<text font-family='"Liberation Sans", sans-serif' font-weight="bold" font-size="23" x="1525" y="142.9" textLength="337.7" lengthAdjust="spacingAndGlyphs">First: 2025-01-16 00:30:02</text>
<text font-family='"Liberation Sans", sans-serif' font-weight="bold" font-size="23" x="1525" y="169.2" textLength="332.6" lengthAdjust="spacingAndGlyphs">Last: 2025-01-16 22:34:31</text>
<text font-family='"Liberation Sans", sans-serif' font-weight="bold" font-size="23" x="1525" y="195.5" textLength="338.3" lengthAdjust="spacingAndGlyphs">Method: Nearest-Neighbor</text>
<text font-family='"Liberation Sans", sans-serif' font-style="italic" font-size="18.6" x="323" y="917.7" textLength="929.5" lengthAdjust="spacingAndGlyphs" xml:space="preserve">Ocean Heat Content (kJ/cm^2) - Glider: N/A,  RTOFS: N/A,  RTOFS (Parallel): N/A,  ESPC: N/A,  CMEMS: N/A,</text>
<rect x="1563.5" y="274.4" width="402.8" height="284.6" fill="#97b6e1"/>
<g clip-path="url(#cm)">
<polygon points="1560.0,270.0 1707.3,273.0 1709.8,281.0 1710.4,286.5 1710.1,291.5 1709.0,295.5 1704.5,297.0 1699.0,299.2 1693.4,303.6 1687.8,310.3 1686.2,313.1 1683.4,310.3 1676.7,310.9 1671.1,312.5 1665.6,315.9 1662.2,319.2 1657.4,322.1 1654.2,331.8 1650.5,331.0 1641.4,331.8 1635.0,336.0 1628.5,344.6 1624.2,352.1 1611.4,362.8 1598.5,371.4 1587.8,382.1 1581.4,392.8 1577.7,405.7 1576.6,420.0 1577.3,428.0 1581.5,438.9 1590.3,458.3 1594.7,470.7 1599.2,484.8 1603.1,497.0 1607.3,508.4 1608.0,517.4 1606.6,531.3 1603.1,541.8 1599.0,550.1 1594.8,555.7 1590.6,554.3 1584.4,554.3 1583.0,548.7 1584.4,544.5 1579.5,540.4 1570.4,534.8 1567.0,527.8 1564.9,519.5 1568.4,516.7 1560.0,516.5" fill="#d2b48c" stroke="none"/>
<polyline points="1600.0,274.6 1598.4,279.5 1606.4,289.1 1609.6,298.7 1612.0,301.9 1612.8,311.6 1616.7,320.0 1623.2,331.8 1629.6,340.3" fill="none" stroke="#97b6e1" stroke-width="1.7" stroke-linejoin="round" stroke-linecap="round"/>
<polyline points="1624.0,274.6 1638.5,294.7 1634.5,300.3 1636.9,308.4 1651.3,318.0 1654.6,322.8" fill="none" stroke="#97b6e1" stroke-width="1.7" stroke-linejoin="round" stroke-linecap="round"/>
<polyline points="1564.6,294.7 1574.3,297.1 1577.5,311.6 1578.2,320.0 1585.7,329.6 1597.5,339.3 1605.0,342.5 1624.2,351.0" fill="none" stroke="#97b6e1" stroke-width="1.7" stroke-linejoin="round" stroke-linecap="round"/>
<polyline points="1607.1,344.6 1611.4,357.5" fill="none" stroke="#97b6e1" stroke-width="1.7" stroke-linejoin="round" stroke-linecap="round"/>
<polyline points="1564.3,386.4 1575.0,398.2" fill="none" stroke="#97b6e1" stroke-width="1.7" stroke-linejoin="round" stroke-linecap="round"/>
<polyline points="1670.6,274.6 1676.0,277.5 1681.0,278.0" fill="none" stroke="#97b6e1" stroke-width="1.7" stroke-linejoin="round" stroke-linecap="round"/>
<polyline points="1576.0,424.0 1571.8,424.7 1572.7,440.6 1571.8,445.9 1576.2,458.3 1581.5,463.6 1588.6,470.7 1590.3,477.7 1586.8,481.3" fill="none" stroke="#97b6e1" stroke-width="1.7" stroke-linejoin="round" stroke-linecap="round"/>
<polygon points="1585.0,510.4 1591.3,504.2 1594.8,509.7 1592.7,516.7 1587.8,513.9" fill="#aaaaaa"/>
<circle cx="1572" cy="468" r="1.2" fill="#aaaaaa"/>
<circle cx="1580" cy="486.5" r="1.2" fill="#aaaaaa"/>
<circle cx="1579" cy="499.5" r="1.2" fill="#aaaaaa"/>
<polyline points="1563.8,296.3 1584.7,297.1 1589.5,299.5 1591.9,306.4 1616.8,307.1 1640.9,331.6" fill="none" stroke="#000" stroke-width="1.5" stroke-linejoin="round" stroke-linecap="round"/>
<polyline points="1564.3,341.4 1573.9,353.2 1577.1,360.7 1581.4,368.2 1584.6,376.7 1590.0,381.0" fill="none" stroke="#000" stroke-width="1.5" stroke-linejoin="round" stroke-linecap="round"/>
<polyline points="1564.3,413.1 1576.0,414.2" fill="none" stroke="#000" stroke-width="1.5" stroke-linejoin="round" stroke-linecap="round"/>
<polyline points="1707.3,273.0 1709.8,281.0 1710.4,286.5 1710.1,291.5 1709.0,295.5 1704.5,297.0 1699.0,299.2 1693.4,303.6 1687.8,310.3 1686.2,313.1 1683.4,310.3 1676.7,310.9 1671.1,312.5 1665.6,315.9 1662.2,319.2 1657.4,322.1 1654.2,331.8 1650.5,331.0 1641.4,331.8 1635.0,336.0 1628.5,344.6 1624.2,352.1 1611.4,362.8 1598.5,371.4 1587.8,382.1 1581.4,392.8 1577.7,405.7 1576.6,420.0 1577.3,428.0 1581.5,438.9 1590.3,458.3 1594.7,470.7 1599.2,484.8 1603.1,497.0 1607.3,508.4 1608.0,517.4 1606.6,531.3 1603.1,541.8 1599.0,550.1 1594.8,555.7 1590.6,554.3 1584.4,554.3 1583.0,548.7 1584.4,544.5 1579.5,540.4 1570.4,534.8 1567.0,527.8 1564.9,519.5 1568.4,516.7" fill="none" stroke="#000" stroke-width="2.2" stroke-linejoin="round" stroke-linecap="round"/>
<polygon points="1706.2,278.5 1708.7,284.1 1708.4,292.5 1704.5,294.6 1699.0,296.6 1693.4,299.4 1689.0,300.2 1686.8,298.6 1689.5,293.8 1695.0,291.2 1699.5,287.8 1703.0,283.5" fill="#97b6e1" stroke="#000" stroke-width="2" stroke-linejoin="round"/>
<polyline points="1676.0,287.5 1681.0,286.5 1686.0,287.5 1690.0,290.0 1693.0,291.0" fill="none" stroke="#000" stroke-width="4.5" stroke-linejoin="round" stroke-linecap="round"/>
<polyline points="1693.0,291.0 1698.0,288.0 1702.0,283.5 1704.5,279.5" fill="none" stroke="#000" stroke-width="2.4" stroke-linejoin="round" stroke-linecap="round"/>
<polyline points="1682.0,285.5 1686.0,284.5 1688.5,286.0" fill="none" stroke="#000" stroke-width="3" stroke-linejoin="round" stroke-linecap="round"/>
<polyline points="1676.5,300.0 1681.0,302.5 1686.0,302.0 1689.0,300.5 1690.0,298.0" fill="none" stroke="#000" stroke-width="4" stroke-linejoin="round" stroke-linecap="round"/>
<polyline points="1686.0,302.0 1691.0,301.5 1694.0,304.0" fill="none" stroke="#000" stroke-width="3.5" stroke-linejoin="round" stroke-linecap="round"/>
<polyline points="1681.0,275.8 1707.0,275.8" fill="none" stroke="#000" stroke-width="3.2" stroke-linejoin="round" stroke-linecap="round"/>
<polyline points="1697.0,276.0 1697.5,284.0" fill="none" stroke="#000" stroke-width="3" stroke-linejoin="round" stroke-linecap="round"/>
<polyline points="1701.0,277.0 1703.0,280.0" fill="none" stroke="#000" stroke-width="2.2" stroke-linejoin="round" stroke-linecap="round"/>
<polyline points="1708.5,276.0 1710.2,283.0 1710.5,290.0 1709.3,295.0 1704.5,297.0 1699.0,299.4 1693.4,303.6 1687.8,310.3 1686.2,313.1" fill="none" stroke="#000" stroke-width="3.2" stroke-linejoin="round" stroke-linecap="round"/>
<polyline points="1686.2,313.1 1683.4,310.3 1676.7,310.9 1671.1,312.5 1665.6,315.9 1662.2,319.2" fill="none" stroke="#000" stroke-width="3.4" stroke-linejoin="round" stroke-linecap="round"/>
<polyline points="1654.8,333.5 1654.0,329.0 1656.0,324.0" fill="none" stroke="#000" stroke-width="3" stroke-linejoin="round" stroke-linecap="round"/>
<polyline points="1589.0,379.0 1592.0,374.0 1597.0,370.0 1603.0,366.5 1609.0,363.0 1614.0,359.5 1619.0,355.5 1623.5,351.5 1625.5,347.0" fill="none" stroke="#000" stroke-width="4.6" stroke-linejoin="round" stroke-linecap="round"/>
<polyline points="1590.5,369.0 1592.5,375.0" fill="none" stroke="#000" stroke-width="2.5" stroke-linejoin="round" stroke-linecap="round"/>
<polyline points="1596.0,367.0 1598.0,372.0" fill="none" stroke="#000" stroke-width="2.5" stroke-linejoin="round" stroke-linecap="round"/>
<polyline points="1625.0,345.0 1625.8,349.0" fill="none" stroke="#000" stroke-width="3" stroke-linejoin="round" stroke-linecap="round"/>
<polyline points="1574.5,402.0 1577.0,398.0 1579.0,392.0 1582.0,386.0 1586.0,381.0 1590.0,378.0" fill="none" stroke="#000" stroke-width="5.5" stroke-linejoin="round" stroke-linecap="round"/>
<polyline points="1575.5,416.0 1575.5,408.0 1577.0,402.0" fill="none" stroke="#000" stroke-width="4.5" stroke-linejoin="round" stroke-linecap="round"/>
<polyline points="1591.5,467.0 1594.5,469.0 1596.5,474.0 1600.0,484.0 1604.0,496.0 1606.5,506.0" fill="none" stroke="#000" stroke-width="3.0" stroke-linejoin="round" stroke-linecap="round"/>
<polyline points="1583.0,551.5 1588.0,556.5 1595.0,556.0" fill="none" stroke="#000" stroke-width="3.8" stroke-linejoin="round" stroke-linecap="round"/>
<polyline points="1568.4,516.7 1565.5,519.5 1567.0,527.8 1570.4,534.8 1579.5,540.4 1583.5,545.0" fill="none" stroke="#000" stroke-width="2.8" stroke-linejoin="round" stroke-linecap="round"/>
<polyline points="1599.5,548.0 1603.0,542.0 1606.0,533.0" fill="none" stroke="#000" stroke-width="2.6" stroke-linejoin="round" stroke-linecap="round"/>
<polyline points="1630.7,516.0 1637.5,521.2 1643.5,517.5 1651.0,516.7 1655.5,516.0 1657.0,519.7" fill="none" stroke="#000" stroke-width="3" stroke-linejoin="round" stroke-linecap="round"/>
<polyline points="1640.0,513.5 1641.5,511.5 1643.0,515.0" fill="none" stroke="#000" stroke-width="2.8" stroke-linejoin="round" stroke-linecap="round"/>
<polyline points="1644.2,502.5 1654.0,507.0 1660.0,509.2 1666.0,513.0 1671.2,517.5 1676.5,520.5 1675.0,526.5 1670.5,529.5 1671.2,537.7" fill="none" stroke="#000" stroke-width="2.8" stroke-linejoin="round" stroke-linecap="round"/>
<polyline points="1655.5,516.0 1656.0,511.0 1661.0,510.5 1667.0,515.0 1670.0,520.0 1672.0,526.0 1673.0,522.0" fill="none" stroke="#000" stroke-width="3.6" stroke-linejoin="round" stroke-linecap="round"/>
<polyline points="1668.0,519.0 1673.0,521.0 1675.0,525.0 1671.0,528.0" fill="none" stroke="#000" stroke-width="4.5" stroke-linejoin="round" stroke-linecap="round"/>
<polyline points="1625.5,540.0 1624.7,544.5 1627.0,549.0 1627.7,552.0" fill="none" stroke="#000" stroke-width="2.2" stroke-linejoin="round" stroke-linecap="round"/>
<polyline points="1655.5,537.7 1660.0,543.7 1658.5,548.2 1654.7,547.5" fill="none" stroke="#000" stroke-width="2.8" stroke-linejoin="round" stroke-linecap="round"/>
<polyline points="1650.2,551.2 1648.7,555.0 1653.2,558.7" fill="none" stroke="#000" stroke-width="3.2" stroke-linejoin="round" stroke-linecap="round"/>
<polyline points="1663.7,558.0 1673.5,555.0 1681.0,545.2 1684.7,546.0 1690.0,550.5 1696.0,557.2" fill="none" stroke="#000" stroke-width="2.8" stroke-linejoin="round" stroke-linecap="round"/>
<circle cx="1648.5" cy="509" r="1.5" fill="#000"/>
<circle cx="1663" cy="527.5" r="1.5" fill="#000"/>
<circle cx="1663.5" cy="532" r="1.5" fill="#000"/>
<circle cx="1667" cy="534" r="1.5" fill="#000"/>
<line x1="1946.5" y1="374.3" x2="1950.5" y2="371.6" stroke="#000" stroke-width="2.8" stroke-linecap="round"/>
<circle cx="1725.4" cy="275.2" r="3.8" fill="#ff0000" stroke="#600" stroke-width="0.8"/>
</g>
<polyline points="1707.0,274.4 1966.3,274.4 1966.3,559.0 1563.5,559.0 1563.5,516.0" fill="none" stroke="#000" stroke-width="1.6"/>
<g stroke="#000">
<line x1="1565.5" y1="559.0" x2="1565.5" y2="562.5" stroke-width="1.5"/>
<line x1="1565.5" y1="274.4" x2="1565.5" y2="270.9" stroke-width="1.5"/>
<line x1="1587.7" y1="559.0" x2="1587.7" y2="568.0" stroke-width="3"/>
<line x1="1587.7" y1="274.4" x2="1587.7" y2="265.4" stroke-width="3"/>
<line x1="1609.9" y1="559.0" x2="1609.9" y2="562.5" stroke-width="1.5"/>
<line x1="1609.9" y1="274.4" x2="1609.9" y2="270.9" stroke-width="1.5"/>
<line x1="1632.2" y1="559.0" x2="1632.2" y2="562.5" stroke-width="1.5"/>
<line x1="1632.2" y1="274.4" x2="1632.2" y2="270.9" stroke-width="1.5"/>
<line x1="1654.4" y1="559.0" x2="1654.4" y2="568.0" stroke-width="3"/>
<line x1="1654.4" y1="274.4" x2="1654.4" y2="265.4" stroke-width="3"/>
<line x1="1676.6" y1="559.0" x2="1676.6" y2="562.5" stroke-width="1.5"/>
<line x1="1676.6" y1="274.4" x2="1676.6" y2="270.9" stroke-width="1.5"/>
<line x1="1698.9" y1="559.0" x2="1698.9" y2="562.5" stroke-width="1.5"/>
<line x1="1698.9" y1="274.4" x2="1698.9" y2="270.9" stroke-width="1.5"/>
<line x1="1721.1" y1="559.0" x2="1721.1" y2="568.0" stroke-width="3"/>
<line x1="1721.1" y1="274.4" x2="1721.1" y2="265.4" stroke-width="3"/>
<line x1="1743.3" y1="559.0" x2="1743.3" y2="562.5" stroke-width="1.5"/>
<line x1="1743.3" y1="274.4" x2="1743.3" y2="270.9" stroke-width="1.5"/>
<line x1="1765.5" y1="559.0" x2="1765.5" y2="562.5" stroke-width="1.5"/>
<line x1="1765.5" y1="274.4" x2="1765.5" y2="270.9" stroke-width="1.5"/>
<line x1="1787.8" y1="559.0" x2="1787.8" y2="568.0" stroke-width="3"/>
<line x1="1787.8" y1="274.4" x2="1787.8" y2="265.4" stroke-width="3"/>
<line x1="1810.0" y1="559.0" x2="1810.0" y2="562.5" stroke-width="1.5"/>
<line x1="1810.0" y1="274.4" x2="1810.0" y2="270.9" stroke-width="1.5"/>
<line x1="1832.2" y1="559.0" x2="1832.2" y2="562.5" stroke-width="1.5"/>
<line x1="1832.2" y1="274.4" x2="1832.2" y2="270.9" stroke-width="1.5"/>
<line x1="1854.5" y1="559.0" x2="1854.5" y2="568.0" stroke-width="3"/>
<line x1="1854.5" y1="274.4" x2="1854.5" y2="265.4" stroke-width="3"/>
<line x1="1876.7" y1="559.0" x2="1876.7" y2="562.5" stroke-width="1.5"/>
<line x1="1876.7" y1="274.4" x2="1876.7" y2="270.9" stroke-width="1.5"/>
<line x1="1898.9" y1="559.0" x2="1898.9" y2="562.5" stroke-width="1.5"/>
<line x1="1898.9" y1="274.4" x2="1898.9" y2="270.9" stroke-width="1.5"/>
<line x1="1921.2" y1="559.0" x2="1921.2" y2="568.0" stroke-width="3"/>
<line x1="1921.2" y1="274.4" x2="1921.2" y2="265.4" stroke-width="3"/>
<line x1="1943.4" y1="559.0" x2="1943.4" y2="562.5" stroke-width="1.5"/>
<line x1="1943.4" y1="274.4" x2="1943.4" y2="270.9" stroke-width="1.5"/>
<line x1="1965.6" y1="559.0" x2="1965.6" y2="562.5" stroke-width="1.5"/>
<line x1="1965.6" y1="274.4" x2="1965.6" y2="270.9" stroke-width="1.5"/>
<line x1="1563.5" y1="558.9" x2="1560.0" y2="558.9" stroke-width="1.5"/>
<line x1="1966.3" y1="558.9" x2="1969.8" y2="558.9" stroke-width="1.5"/>
<line x1="1563.5" y1="534.3" x2="1560.0" y2="534.3" stroke-width="1.5"/>
<line x1="1966.3" y1="534.3" x2="1969.8" y2="534.3" stroke-width="1.5"/>
<line x1="1563.5" y1="509.5" x2="1554.5" y2="509.5" stroke-width="3"/>
<line x1="1966.3" y1="509.5" x2="1975.3" y2="509.5" stroke-width="3"/>
<line x1="1563.5" y1="484.4" x2="1560.0" y2="484.4" stroke-width="1.5"/>
<line x1="1966.3" y1="484.4" x2="1969.8" y2="484.4" stroke-width="1.5"/>
<line x1="1563.5" y1="459.1" x2="1560.0" y2="459.1" stroke-width="1.5"/>
<line x1="1966.3" y1="459.1" x2="1969.8" y2="459.1" stroke-width="1.5"/>
<line x1="1563.5" y1="433.6" x2="1554.5" y2="433.6" stroke-width="3"/>
<line x1="1966.3" y1="433.6" x2="1975.3" y2="433.6" stroke-width="3"/>
<line x1="1563.5" y1="407.8" x2="1560.0" y2="407.8" stroke-width="1.5"/>
<line x1="1966.3" y1="407.8" x2="1969.8" y2="407.8" stroke-width="1.5"/>
<line x1="1563.5" y1="381.7" x2="1560.0" y2="381.7" stroke-width="1.5"/>
<line x1="1966.3" y1="381.7" x2="1969.8" y2="381.7" stroke-width="1.5"/>
<line x1="1563.5" y1="355.3" x2="1554.5" y2="355.3" stroke-width="3"/>
<line x1="1966.3" y1="355.3" x2="1975.3" y2="355.3" stroke-width="3"/>
<line x1="1563.5" y1="328.7" x2="1560.0" y2="328.7" stroke-width="1.5"/>
<line x1="1966.3" y1="328.7" x2="1969.8" y2="328.7" stroke-width="1.5"/>
<line x1="1563.5" y1="301.7" x2="1560.0" y2="301.7" stroke-width="1.5"/>
<line x1="1966.3" y1="301.7" x2="1969.8" y2="301.7" stroke-width="1.5"/>
<line x1="1563.5" y1="274.4" x2="1554.5" y2="274.4" stroke-width="3"/>
<line x1="1966.3" y1="274.4" x2="1975.3" y2="274.4" stroke-width="3"/>
</g>
<g font-family='"Liberation Sans", sans-serif' font-size="24" fill="#000">
<text x="1548.2" y="283.6" text-anchor="end" textLength="56" lengthAdjust="spacingAndGlyphs">36°N</text>
<text x="1548.2" y="364.5" text-anchor="end" textLength="56" lengthAdjust="spacingAndGlyphs">33°N</text>
<text x="1548.2" y="442.8" text-anchor="end" textLength="56" lengthAdjust="spacingAndGlyphs">30°N</text>
<text x="1548.2" y="518.7" text-anchor="end" textLength="56" lengthAdjust="spacingAndGlyphs">27°N</text>
<text transform="translate(1585.0,603.3) rotate(-45)" x="0" y="8.4" text-anchor="middle" textLength="62" lengthAdjust="spacingAndGlyphs">81°W</text>
<text transform="translate(1651.7,603.3) rotate(-45)" x="0" y="8.4" text-anchor="middle" textLength="62" lengthAdjust="spacingAndGlyphs">78°W</text>
<text transform="translate(1718.4,603.3) rotate(-45)" x="0" y="8.4" text-anchor="middle" textLength="62" lengthAdjust="spacingAndGlyphs">75°W</text>
<text transform="translate(1785.1,603.3) rotate(-45)" x="0" y="8.4" text-anchor="middle" textLength="62" lengthAdjust="spacingAndGlyphs">72°W</text>
<text transform="translate(1851.8,603.3) rotate(-45)" x="0" y="8.4" text-anchor="middle" textLength="62" lengthAdjust="spacingAndGlyphs">69°W</text>
<text transform="translate(1918.5,603.3) rotate(-45)" x="0" y="8.4" text-anchor="middle" textLength="62" lengthAdjust="spacingAndGlyphs">66°W</text>
</g>
<rect x="1635.1" y="636.2" width="260.8" height="178.3" rx="3" fill="#fff" fill-opacity="0.8" stroke="#cccccc" stroke-width="1.4"/>
<line x1="1643.2" y1="655.3" x2="1690.8" y2="655.3" stroke="#0000ff" stroke-width="3"/>
<circle cx="1666.5" cy="655.3" r="6.2" fill="#0000ff"/>
<text font-family='"Liberation Sans", sans-serif' font-size="22.5" x="1706.2" y="663.6" textLength="80.5" lengthAdjust="spacingAndGlyphs">cp_388</text>
<line x1="1643.2" y1="690.4" x2="1690.8" y2="690.4" stroke="#ff0000" stroke-width="3"/>
<circle cx="1666.5" cy="690.4" r="6.2" fill="#ff0000"/>
<text font-family='"Liberation Sans", sans-serif' font-size="22.5" x="1706.2" y="698.7" textLength="72" lengthAdjust="spacingAndGlyphs">RTOFS</text>
<line x1="1643.2" y1="724.1" x2="1690.8" y2="724.1" stroke="#ffa500" stroke-width="3"/>
<circle cx="1666.5" cy="724.1" r="6.2" fill="#ffa500"/>
<text font-family='"Liberation Sans", sans-serif' font-size="22.5" x="1706.2" y="732.4" textLength="180" lengthAdjust="spacingAndGlyphs">RTOFS (Parallel)</text>
<line x1="1643.2" y1="758.3" x2="1690.8" y2="758.3" stroke="#008000" stroke-width="3"/>
<circle cx="1666.5" cy="758.3" r="6.2" fill="#008000"/>
<text font-family='"Liberation Sans", sans-serif' font-size="22.5" x="1706.2" y="766.6" textLength="57.8" lengthAdjust="spacingAndGlyphs">ESPC</text>
<line x1="1643.2" y1="793.1" x2="1690.8" y2="793.1" stroke="#ff00ff" stroke-width="3"/>
<circle cx="1666.5" cy="793.1" r="6.2" fill="#ff00ff"/>
<text font-family='"Liberation Sans", sans-serif' font-size="22.5" x="1706.2" y="801.4" textLength="82.8" lengthAdjust="spacingAndGlyphs">CMEMS</text>
</svg>
</body></html>
